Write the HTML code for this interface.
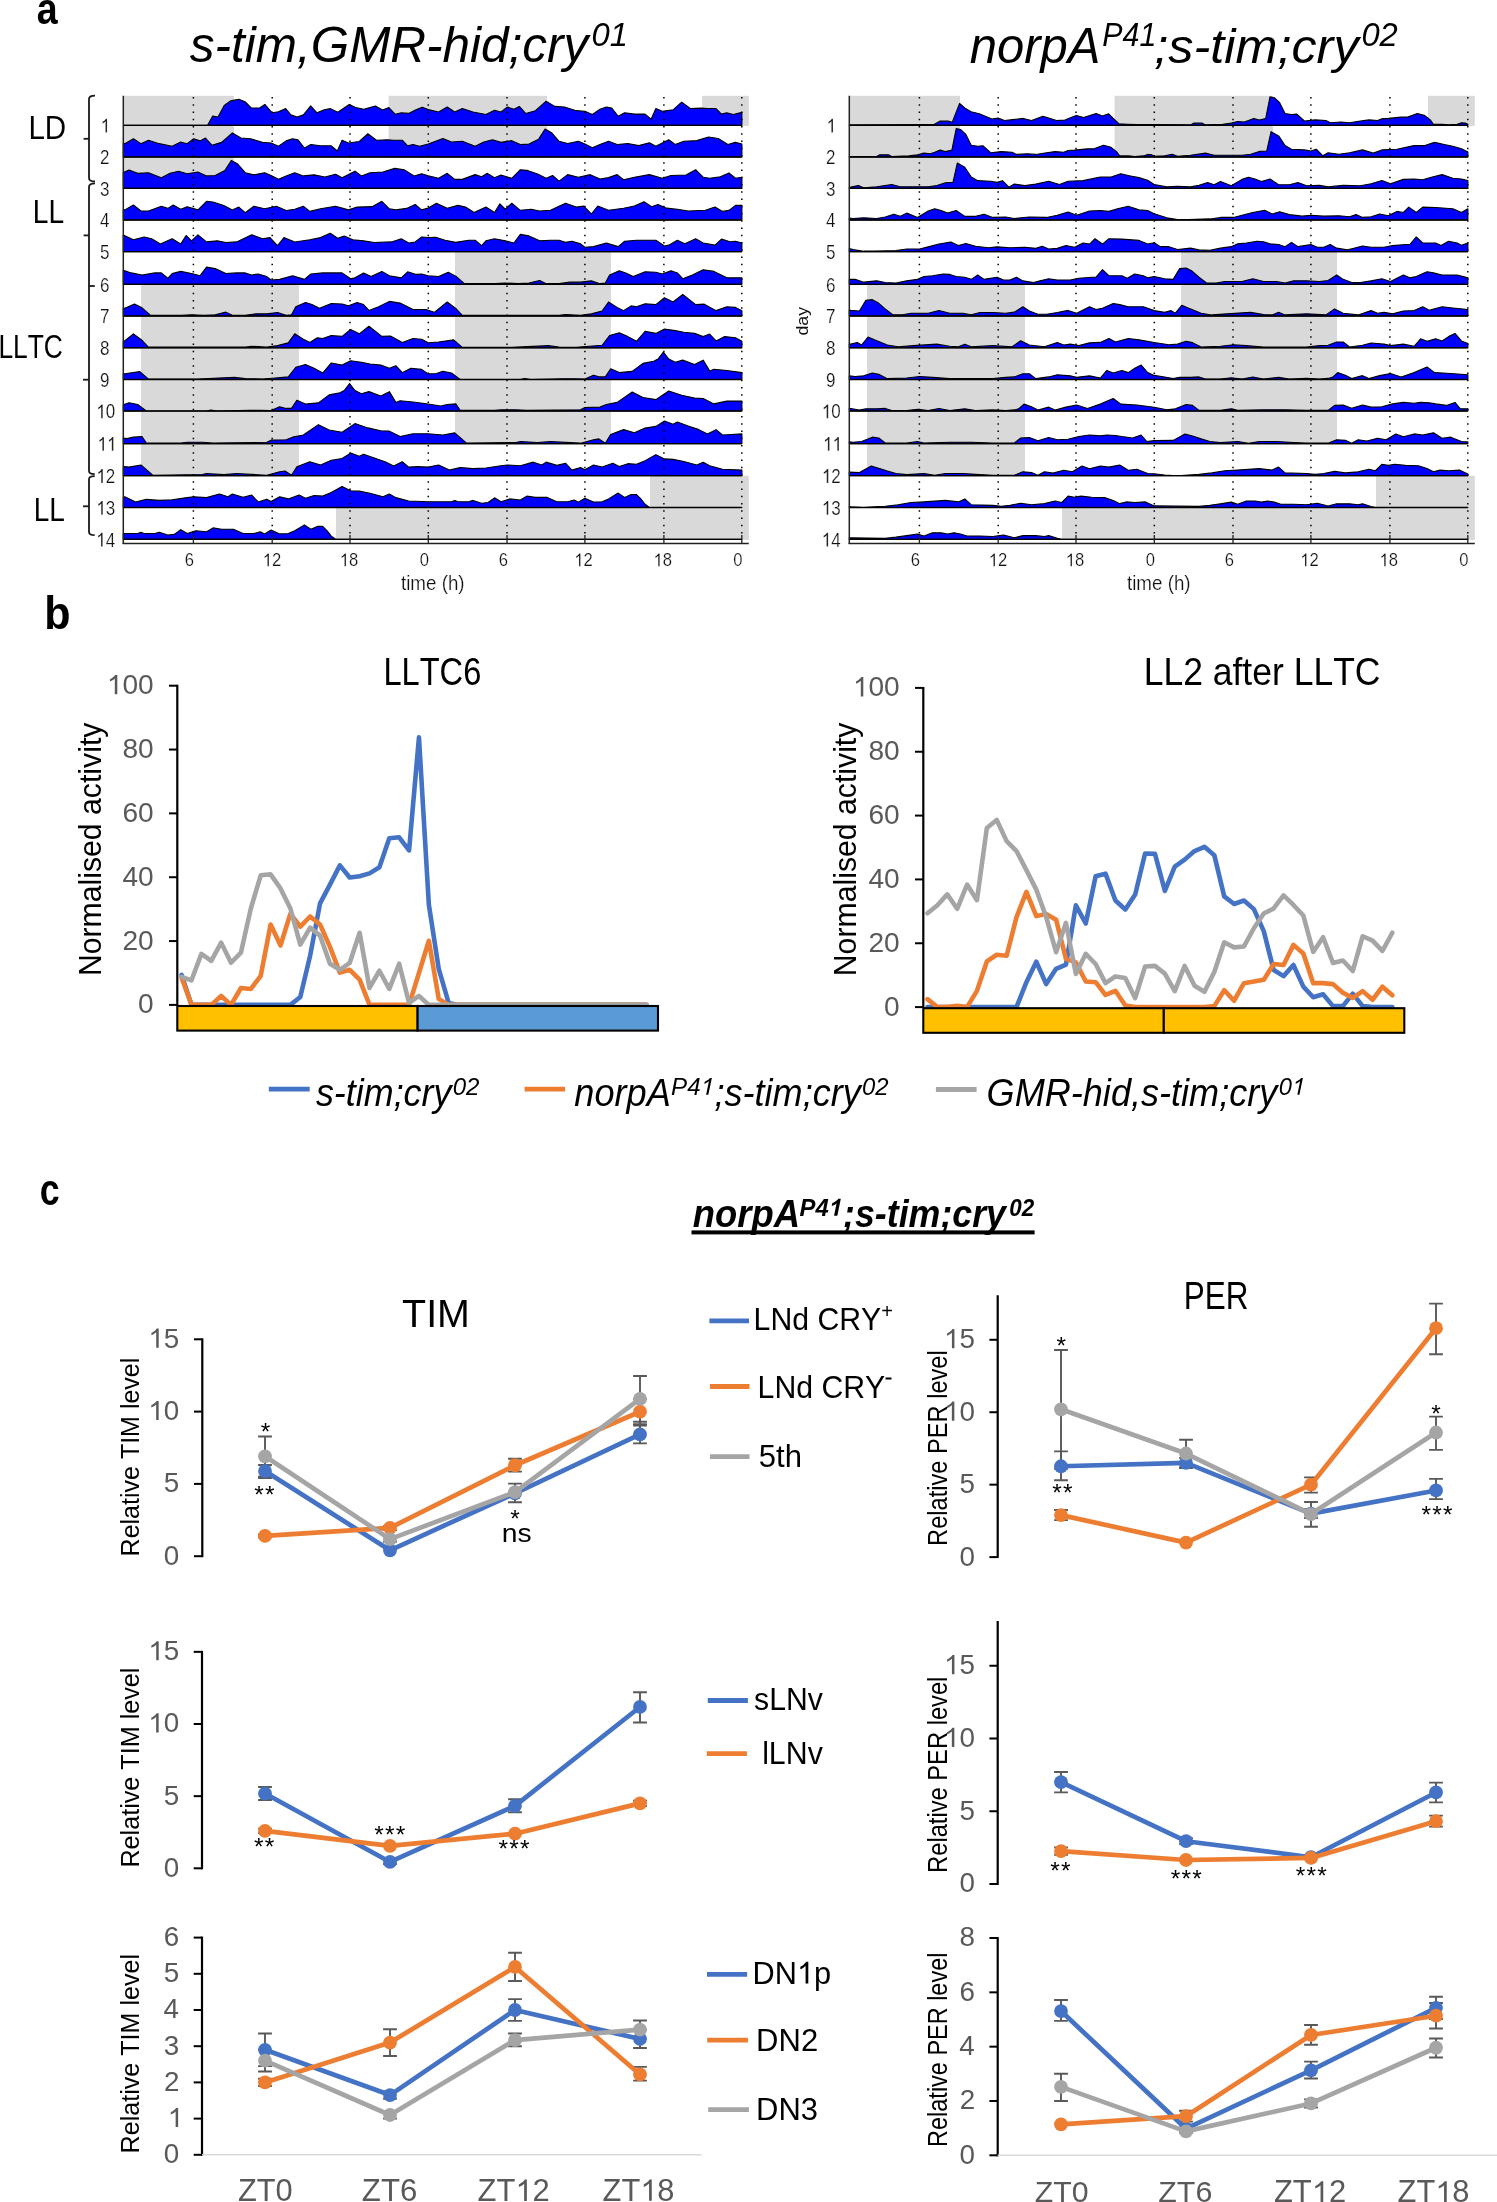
<!DOCTYPE html>
<html><head><meta charset="utf-8"><title>figure</title>
<style>html,body{margin:0;padding:0;background:#fff;}svg{display:block;font-family:"Liberation Sans",sans-serif;font-kerning:none;will-change:transform;}</style>
</head><body>
<svg width="1497" height="2202" viewBox="0 0 1497 2202" font-family="Liberation Sans, sans-serif">
<rect width="1497" height="2202" fill="#fff"/>
<rect x="123.3" y="95.8" width="110.7" height="30.1" fill="#d9d9d9" />
<rect x="388.6" y="95.8" width="158.4" height="30.1" fill="#d9d9d9" />
<rect x="702" y="95.8" width="46.8" height="30.1" fill="#d9d9d9" />
<rect x="123.3" y="125.3" width="110.7" height="32.3" fill="#d9d9d9" />
<rect x="388.6" y="125.3" width="158.4" height="32.3" fill="#d9d9d9" />
<rect x="123.3" y="157" width="110.7" height="32" fill="#d9d9d9" />
<rect x="455" y="251.6" width="156" height="33.3" fill="#d9d9d9" />
<rect x="141" y="284.3" width="158" height="32.3" fill="#d9d9d9" />
<rect x="455" y="284.3" width="156" height="32.3" fill="#d9d9d9" />
<rect x="141" y="316" width="158" height="32.4" fill="#d9d9d9" />
<rect x="455" y="316" width="156" height="32.4" fill="#d9d9d9" />
<rect x="141" y="347.8" width="158" height="32.3" fill="#d9d9d9" />
<rect x="455" y="347.8" width="156" height="32.3" fill="#d9d9d9" />
<rect x="141" y="379.5" width="158" height="32.1" fill="#d9d9d9" />
<rect x="455" y="379.5" width="156" height="32.1" fill="#d9d9d9" />
<rect x="141" y="411" width="158" height="33.2" fill="#d9d9d9" />
<rect x="455" y="411" width="156" height="33.2" fill="#d9d9d9" />
<rect x="141" y="443.6" width="158" height="32.7" fill="#d9d9d9" />
<rect x="650" y="475.7" width="98.8" height="32.4" fill="#d9d9d9" />
<rect x="336" y="507.5" width="412.8" height="32.4" fill="#d9d9d9" />
<path d="M123.3,125.3 L123.3,125.3 L124.17,125.3 L207.54,125.3 L212.75,115.92 L217.96,116.96 L224.21,105.5 L230.46,100.91 L238.8,99.25 L245.05,101.75 L251.3,108 L259.64,108 L264.85,104.46 L272.15,112.79 L278.4,111.75 L285.69,108.63 L290.9,114.88 L297.16,116.96 L303.41,114.88 L310.7,105.92 L316.96,112.79 L324.25,109.67 L330.5,108.63 L337.8,112.17 L349.26,104.46 L355.51,107.58 L363.85,109.25 L375.31,105.92 L382.61,110.09 L388.86,107.58 L395.11,114.25 L401.37,112.79 L408.66,113.42 L415.96,109.67 L422.21,107.17 L428.2,109.6 L438.6,111.96 L447.21,107.02 L454.74,111.96 L462.27,108.52 L473.02,111.96 L485.93,114.54 L494.53,110.24 L500.98,111.96 L507.44,107.02 L513.89,109.17 L519.27,106.37 L525.72,113.47 L535.4,110.67 L546.15,101.21 L554.76,106.37 L564.44,107.02 L576.27,110.67 L584.87,111.32 L592.4,114.54 L599.93,109.17 L606.38,107.02 L611.76,108.09 L618.21,116.27 L624.67,112.82 L634.35,114.11 L645.1,114.11 L651.12,119.28 L655.86,108.52 L662.31,111.32 L673.06,109.81 L681.67,102.07 L690.27,108.52 L701.03,108.09 L707.48,108.52 L716.08,108.52 L721.46,114.11 L726.84,112.82 L733.29,114.54 L741.9,112.39 L741.9,112.39 L741.9,125.3 Z" fill="#0000ff" stroke="#000" stroke-width="1.1" stroke-linejoin="round"/>
<line x1="123.3" y1="125.3" x2="741.9" y2="125.3" stroke="#000" stroke-width="1.3" />
<path d="M123.3,157 L123.3,143.36 L124.8,143.66 L133.41,138.72 L140.94,143.66 L148.47,140.22 L159.22,143.66 L172.13,146.24 L180.73,141.94 L187.18,143.66 L193.64,138.72 L200.09,140.87 L205.47,138.07 L211.92,145.17 L221.6,142.37 L232.35,132.91 L240.96,138.07 L250.64,138.72 L262.47,142.37 L271.07,143.02 L278.6,146.24 L286.13,140.87 L292.58,138.72 L297.96,139.79 L304.41,147.97 L310.87,144.52 L320.55,145.81 L331.3,145.81 L337.32,150.98 L342.06,140.22 L348.51,143.02 L359.26,141.51 L367.87,133.77 L376.47,140.22 L387.23,139.79 L393.68,140.22 L402.28,140.22 L407.66,145.81 L413.04,144.52 L419.49,146.24 L428.2,144.09 L442.91,138.5 L451.51,141.94 L462.27,141.3 L475.17,146.24 L483.78,141.94 L492.38,139.79 L500.98,142.37 L511.74,140.65 L520.34,144.52 L528.95,144.09 L538.63,139.15 L545.08,129.04 L551.53,132.69 L559.06,141.3 L567.66,143.45 L578.42,141.3 L584.87,144.09 L592.4,147.75 L599.93,144.52 L608.53,141.3 L617.14,144.52 L627.89,143.45 L638.65,145.6 L649.4,142.8 L655.86,146.24 L668.76,139.79 L675.21,144.52 L683.82,141.3 L696.72,140.65 L708.55,137 L718.23,138.5 L727.91,144.52 L735.44,142.37 L741.9,144.09 L741.9,144.09 L741.9,157 Z" fill="#0000ff" stroke="#000" stroke-width="1.1" stroke-linejoin="round"/>
<line x1="123.3" y1="157" x2="741.9" y2="157" stroke="#000" stroke-width="1.3" />
<path d="M123.3,188.4 L123.3,172.42 L129.11,169.9 L137.71,173.34 L148.47,172.7 L161.37,177.64 L169.98,173.34 L178.58,171.19 L187.18,173.77 L197.94,172.05 L206.54,175.92 L215.15,175.49 L224.83,170.55 L231.28,160.44 L237.73,164.09 L245.26,172.7 L253.86,174.85 L264.62,172.7 L271.07,175.49 L278.6,179.15 L286.13,175.92 L294.73,172.7 L303.34,175.92 L314.09,174.85 L324.85,177 L335.6,174.2 L342.06,177.64 L354.96,171.19 L361.41,175.92 L370.02,172.7 L382.92,172.05 L394.75,168.4 L404.43,169.9 L414.11,175.92 L421.64,173.77 L428.2,175.82 L438.6,178.29 L447.21,173.34 L454.74,179.37 L462.27,179.37 L475.17,174.63 L481.62,176.78 L487,173.34 L494.53,177.64 L500.98,175.06 L511.74,178.29 L520.34,169.69 L526.8,170.33 L537.55,173.99 L546.15,178.29 L552.61,175.49 L559.06,181.09 L567.66,174.63 L578.42,177.21 L590.25,174.63 L599.93,178.94 L608.53,177.64 L617.14,174.63 L623.59,179.8 L634.35,177.21 L649.4,174.63 L662.31,178.29 L670.91,175.49 L685.97,175.06 L695.65,169.69 L703.18,177.21 L709.63,178.29 L720.39,176.78 L728.99,172.91 L735.44,178.29 L741.9,177.21 L741.9,177.21 L741.9,188.4 Z" fill="#0000ff" stroke="#000" stroke-width="1.1" stroke-linejoin="round"/>
<line x1="123.3" y1="188.4" x2="741.9" y2="188.4" stroke="#000" stroke-width="1.3" />
<path d="M123.3,220 L123.3,209.51 L124.8,209.89 L133.41,204.94 L140.94,210.97 L148.47,210.97 L161.37,206.23 L167.82,208.38 L173.2,204.94 L180.73,209.24 L187.18,206.66 L197.94,209.89 L206.54,201.29 L213,201.93 L223.75,205.59 L232.35,209.89 L238.81,207.09 L245.26,212.69 L253.86,206.23 L264.62,208.81 L276.45,206.23 L286.13,210.54 L294.73,209.24 L303.34,206.23 L309.79,211.4 L320.55,208.81 L335.6,206.23 L348.51,209.89 L357.11,207.09 L372.17,206.66 L381.85,201.29 L389.38,208.81 L395.83,209.89 L406.59,208.38 L415.19,204.51 L421.64,209.89 L428.2,207.95 L436.45,203.22 L447.21,208.17 L457.96,205.37 L465.49,207.09 L474.1,212.47 L485.93,207.09 L494.53,212.47 L499.91,203.87 L505.29,209.24 L511.74,203.22 L520.34,210.32 L531.1,209.24 L539.7,210.97 L550.46,210.32 L565.51,203.22 L576.27,207.09 L583.8,206.02 L591.33,213.98 L597.78,206.02 L608.53,210.32 L623.59,208.17 L634.35,206.02 L644.02,201.72 L651.55,206.66 L658.01,204.51 L666.61,208.17 L677.37,209.24 L688.12,210.97 L705.33,210.32 L715.01,207.09 L722.54,211.4 L728.99,210.32 L735.44,205.37 L741.9,205.37 L741.9,205.37 L741.9,220 Z" fill="#0000ff" stroke="#000" stroke-width="1.1" stroke-linejoin="round"/>
<line x1="123.3" y1="220" x2="741.9" y2="220" stroke="#000" stroke-width="1.3" />
<path d="M123.3,251.6 L123.3,235.12 L133.41,239.77 L144.16,236.97 L151.69,238.69 L160.3,244.07 L172.13,238.69 L180.73,244.07 L186.11,235.47 L191.49,240.84 L197.94,234.82 L206.54,241.92 L217.3,240.84 L225.9,242.57 L236.66,241.92 L251.71,234.82 L262.47,238.69 L270,237.62 L277.53,245.58 L283.98,237.62 L294.73,241.92 L309.79,239.77 L320.55,237.62 L330.22,233.32 L337.75,238.26 L344.21,236.11 L352.81,239.77 L363.57,240.84 L374.32,242.57 L391.53,241.92 L401.21,238.69 L408.74,243 L415.19,241.92 L421.64,236.97 L428.2,237.51 L436.45,237.4 L445.06,240.2 L455.81,242.35 L468.72,240.2 L475.17,240.2 L481.62,245.58 L485.93,240.84 L494.53,238.69 L505.29,240.84 L513.89,243 L520.34,234.39 L528.95,235.9 L539.7,240.84 L550.46,240.2 L559.06,240.2 L565.51,242.35 L571.97,241.28 L580.57,243.86 L584.87,247.3 L593.48,246.65 L606.38,243 L618.21,246.65 L624.67,241.28 L636.5,240.2 L655.86,240.2 L664.46,246.01 L668.76,245.15 L677.37,240.2 L684.89,243.86 L695.65,238.69 L703.18,243 L715.01,245.15 L721.46,239.12 L730.06,241.71 L735.44,241.28 L741.9,243 L741.9,243 L741.9,251.6 Z" fill="#0000ff" stroke="#000" stroke-width="1.1" stroke-linejoin="round"/>
<line x1="123.3" y1="251.6" x2="741.9" y2="251.6" stroke="#000" stroke-width="1.3" />
<path d="M123.3,284.3 L123.3,270.31 L131.26,272.9 L142.01,275.05 L154.92,272.9 L161.37,272.9 L167.82,278.28 L172.13,273.54 L180.73,271.39 L191.49,273.54 L200.09,275.7 L206.54,267.09 L215.15,268.6 L225.9,273.54 L236.66,272.9 L245.26,272.9 L251.71,275.05 L258.17,273.98 L266.77,276.56 L271.07,280 L279.68,279.35 L292.58,275.7 L304.41,279.35 L310.87,273.98 L322.7,272.9 L342.06,272.9 L350.66,278.71 L354.96,277.85 L363.57,272.9 L371.09,276.56 L381.85,271.39 L389.38,275.7 L401.21,277.85 L407.66,271.82 L416.26,274.41 L421.64,273.98 L428.2,275.7 L438.6,276.56 L448.28,272.25 L455.81,276.13 L464.42,283.65 L494.53,283.65 L505.29,283.01 L518.19,283.65 L528.95,283.01 L539.7,280.43 L546.15,283.65 L559.06,283.65 L569.82,282.15 L580.57,282.15 L591.33,280.86 L599.93,283.65 L605.31,283.01 L609.61,275.05 L619.29,270.75 L625.74,272.9 L633.27,276.56 L645.1,271.82 L655.86,272.25 L662.31,273.98 L670.91,270.75 L677.37,272.9 L682.74,278.71 L692.42,275.05 L703.18,269.67 L713.93,271.39 L726.84,277.85 L739.74,277.85 L741.9,277.85 L741.9,277.85 L741.9,284.3 Z" fill="#0000ff" stroke="#000" stroke-width="1.1" stroke-linejoin="round"/>
<line x1="123.3" y1="284.3" x2="741.9" y2="284.3" stroke="#000" stroke-width="1.3" />
<path d="M123.3,316 L123.3,308.11 L124.8,308.26 L134.48,303.95 L142.01,307.83 L150.62,315.35 L180.73,315.35 L191.49,314.71 L204.39,315.35 L215.15,314.71 L225.9,312.13 L232.35,315.35 L245.26,315.35 L256.02,313.85 L266.77,313.85 L277.53,312.56 L286.13,315.35 L291.51,314.71 L295.81,306.75 L305.49,302.45 L311.94,304.6 L319.47,308.26 L331.3,303.52 L342.06,303.95 L348.51,305.68 L357.11,302.45 L363.57,304.6 L368.94,310.41 L378.62,306.75 L389.38,301.37 L400.13,303.09 L413.04,309.55 L425.94,309.55 L428.2,310.3 L434.3,312.34 L447.21,302.02 L455.81,308.47 L462.27,315.35 L559.06,315.35 L565.51,314.49 L580.57,315.35 L591.33,313.85 L602.08,311.05 L608.53,302.02 L617.14,307.4 L623.59,310.62 L631.12,305.89 L636.5,306.75 L645.1,303.74 L655.86,304.6 L664.46,297.72 L673.06,302.02 L682.74,294.49 L695.65,304.6 L704.25,304.17 L716.08,310.62 L726.84,306.75 L735.44,307.4 L741.9,310.62 L741.9,310.62 L741.9,316 Z" fill="#0000ff" stroke="#000" stroke-width="1.1" stroke-linejoin="round"/>
<line x1="123.3" y1="316" x2="741.9" y2="316" stroke="#000" stroke-width="1.3" />
<path d="M123.3,347.8 L123.3,341.9 L133.41,333.82 L142.01,340.27 L148.47,347.15 L245.26,347.15 L251.71,346.29 L266.77,347.15 L277.53,345.65 L288.28,342.85 L294.73,333.82 L303.34,339.2 L309.79,342.42 L317.32,337.69 L322.7,338.55 L331.3,335.54 L342.06,336.4 L350.66,329.52 L359.26,333.82 L368.94,326.29 L381.85,336.4 L390.45,335.97 L402.28,342.42 L413.04,338.55 L421.64,339.2 L428.2,342.75 L438.6,341.99 L453.66,339.84 L462.27,347.37 L503.13,347.37 L511.74,347.37 L548.31,345.65 L559.06,346.94 L576.27,347.37 L589.17,346.29 L602.08,345.22 L609.61,335.54 L619.29,332.74 L627.89,336.61 L636.5,341.35 L645.1,331.24 L655.86,333.39 L664.46,329.09 L675.21,330.59 L683.82,332.31 L694.57,333.39 L703.18,336.61 L709.63,334.03 L716.08,340.92 L724.69,336.61 L735.44,337.69 L741.9,341.35 L741.9,341.35 L741.9,347.8 Z" fill="#0000ff" stroke="#000" stroke-width="1.1" stroke-linejoin="round"/>
<line x1="123.3" y1="347.8" x2="741.9" y2="347.8" stroke="#000" stroke-width="1.3" />
<path d="M123.3,379.5 L123.3,373.88 L124.8,373.69 L139.86,371.54 L148.47,379.07 L189.33,379.07 L197.94,379.07 L234.51,377.35 L245.26,378.64 L262.47,379.07 L275.37,377.99 L288.28,376.92 L295.81,367.24 L305.49,364.44 L314.09,368.31 L322.7,373.05 L331.3,362.94 L342.06,365.09 L350.66,360.79 L361.41,362.29 L370.02,364.01 L380.77,365.09 L389.38,368.31 L395.83,365.73 L402.28,372.62 L410.89,368.31 L421.64,369.39 L428.2,373.91 L436.45,373.48 L442.91,371.33 L451.51,373.05 L460.11,379.5 L520.34,379.5 L524.64,378.42 L531.1,379.5 L563.36,378.85 L574.12,378.85 L584.87,379.07 L593.48,375.2 L599.93,376.92 L605.31,376.92 L610.68,368.74 L619.29,372.62 L632.19,371.33 L642.95,363.37 L653.7,361.22 L658.01,359.07 L663.38,351.97 L668.76,359.07 L675.21,362.29 L682.74,360.14 L694.57,364.44 L703.18,360.14 L709.63,370.9 L713.93,369.18 L726.84,370.47 L741.9,372.62 L741.9,372.62 L741.9,379.5 Z" fill="#0000ff" stroke="#000" stroke-width="1.1" stroke-linejoin="round"/>
<line x1="123.3" y1="379.5" x2="741.9" y2="379.5" stroke="#000" stroke-width="1.3" />
<path d="M123.3,411 L123.3,404.76 L129.11,402.83 L137.71,404.55 L146.31,411 L206.54,411 L210.84,409.92 L217.3,411 L249.56,410.35 L260.32,410.35 L271.07,410.57 L279.68,406.7 L286.13,408.42 L291.51,408.42 L296.88,400.24 L305.49,404.12 L318.39,402.83 L329.15,394.87 L339.9,392.72 L344.21,390.57 L349.58,383.47 L354.96,390.57 L361.41,393.79 L368.94,391.64 L380.77,395.94 L389.38,391.64 L395.83,402.4 L400.13,400.68 L413.04,401.97 L428.2,404.01 L440.76,406.05 L447.21,404.55 L455.81,403.9 L460.11,410.35 L494.53,410.35 L500.98,409.71 L516.04,409.71 L526.8,410.35 L580.57,409.71 L584.87,407.56 L599.93,407.13 L606.38,404.55 L617.14,402.4 L632.19,392.07 L642.95,397.45 L655.86,399.6 L668.76,391 L681.67,395.3 L694.57,398.09 L703.18,398.52 L713.93,403.9 L726.84,401.11 L741.9,401.11 L741.9,401.11 L741.9,411 Z" fill="#0000ff" stroke="#000" stroke-width="1.1" stroke-linejoin="round"/>
<line x1="123.3" y1="411" x2="741.9" y2="411" stroke="#000" stroke-width="1.3" />
<path d="M123.3,443.6 L123.3,437.92 L126.96,438.65 L133.41,437.15 L142.01,436.5 L146.31,442.95 L180.73,442.95 L187.18,442.31 L202.24,442.31 L213,442.95 L266.77,442.31 L271.07,440.16 L286.13,439.73 L292.58,437.15 L303.34,435 L318.39,424.67 L329.15,430.05 L342.06,432.2 L354.96,423.6 L367.87,427.9 L380.77,430.69 L389.38,431.12 L400.13,436.5 L413.04,433.71 L428.2,433.81 L442.91,435 L454.74,432.84 L466.57,443.17 L516.04,442.52 L520.34,441.45 L537.55,442.52 L550.46,441.45 L580.57,443.17 L593.48,439.73 L598.85,438.87 L605.31,443.17 L610.68,434.57 L623.59,429.62 L634.35,432.84 L645.1,428.11 L655.86,426.39 L664.46,421.01 L673.06,424.24 L677.37,422.09 L688.12,425.96 L698.88,429.62 L707.48,433.92 L716.08,429.62 L722.54,435 L731.14,434.57 L741.9,433.92 L741.9,433.92 L741.9,443.6 Z" fill="#0000ff" stroke="#000" stroke-width="1.1" stroke-linejoin="round"/>
<line x1="123.3" y1="443.6" x2="741.9" y2="443.6" stroke="#000" stroke-width="1.3" />
<path d="M123.3,475.7 L123.3,466.61 L129.11,467.1 L140.94,464.94 L152.77,475.27 L202.24,474.62 L206.54,473.55 L223.75,474.62 L236.66,473.55 L266.77,475.27 L279.68,471.83 L285.05,470.97 L291.51,475.27 L296.88,466.67 L309.79,461.72 L320.55,464.94 L331.3,460.21 L342.06,458.49 L350.66,453.11 L359.26,456.34 L363.57,454.19 L374.32,458.06 L385.08,461.72 L393.68,466.02 L402.28,461.72 L408.74,467.1 L417.34,466.67 L428.2,466.99 L438.6,464.94 L449.36,470.11 L460.11,467.53 L473.02,468.6 L485.93,467.96 L500.98,465.81 L507.44,464.94 L520.34,465.81 L533.25,462.15 L541.85,464.94 L546.15,462.15 L556.91,465.38 L565.51,463.22 L571.97,470.11 L580.57,467.53 L584.87,469.68 L593.48,464.94 L602.08,467.1 L612.84,463.22 L619.29,466.45 L627.89,463.65 L636.5,464.3 L645.1,460.64 L655.86,454.62 L664.46,458.92 L673.06,459.35 L683.82,461.5 L696.72,464.94 L703.18,462.15 L709.63,465.81 L722.54,469.25 L741.9,470.11 L741.9,470.11 L741.9,475.7 Z" fill="#0000ff" stroke="#000" stroke-width="1.1" stroke-linejoin="round"/>
<line x1="123.3" y1="475.7" x2="741.9" y2="475.7" stroke="#000" stroke-width="1.3" />
<path d="M123.3,507.5 L123.3,497.27 L124.8,496.74 L135.56,501.91 L146.31,499.33 L159.22,500.4 L172.13,499.76 L187.18,497.61 L193.64,496.74 L206.54,497.61 L219.45,493.95 L228.05,496.74 L232.35,493.95 L243.11,497.18 L251.71,495.02 L258.17,501.91 L266.77,499.33 L271.07,501.48 L279.68,496.74 L288.28,498.9 L299.04,495.02 L305.49,498.25 L314.09,495.45 L322.7,496.1 L331.3,492.44 L342.06,486.42 L350.66,490.72 L359.26,491.15 L370.02,493.3 L382.92,496.74 L389.38,493.95 L395.83,497.61 L408.74,501.05 L428.2,501.8 L451.51,501.69 L454.74,500.4 L457.96,501.69 L468.72,501.69 L473.02,500.4 L481.62,503.2 L488.08,502.55 L494.53,497.82 L500.98,501.69 L509.59,498.9 L520.34,499.97 L526.8,496.1 L535.4,497.39 L547.23,497.39 L556.91,501.69 L567.66,501.69 L574.12,499.97 L578.42,502.12 L584.87,498.25 L593.48,502.12 L602.08,501.69 L608.53,498.9 L618.21,493.09 L624.67,497.39 L631.12,494.59 L636.5,494.59 L640.8,498.9 L645.1,504.27 L649.4,507.5 L649.4,507.5 L741.9,507.5 L741.9,507.5 Z" fill="#0000ff" stroke="#000" stroke-width="1.1" stroke-linejoin="round"/>
<line x1="123.3" y1="507.5" x2="741.9" y2="507.5" stroke="#000" stroke-width="1.3" />
<path d="M123.3,539.3 L123.3,533.49 L137.71,533.49 L140.94,532.2 L144.16,533.49 L154.92,533.49 L159.22,532.2 L167.82,535 L174.28,534.35 L180.73,529.62 L187.18,533.49 L195.79,530.7 L206.54,531.77 L213,527.9 L221.6,529.19 L233.43,529.19 L243.11,533.49 L253.86,533.49 L260.32,531.77 L264.62,533.92 L271.07,530.05 L279.68,533.92 L288.28,533.49 L294.73,530.7 L304.41,524.89 L310.87,529.19 L317.32,526.39 L322.7,526.39 L327,530.7 L331.3,536.07 L335.6,539.3 L335.6,539.3 L428.2,539.3 L741.9,539.3 L741.9,539.3 Z" fill="#0000ff" stroke="#000" stroke-width="1.1" stroke-linejoin="round"/>
<line x1="123.3" y1="539.3" x2="741.9" y2="539.3" stroke="#000" stroke-width="1.3" />
<line x1="193.4" y1="97" x2="193.4" y2="539.3" stroke="#000" stroke-width="1.5" stroke-dasharray="1.5 5.75"/>
<line x1="272.2" y1="97" x2="272.2" y2="539.3" stroke="#000" stroke-width="1.5" stroke-dasharray="1.5 5.75"/>
<line x1="350" y1="97" x2="350" y2="539.3" stroke="#000" stroke-width="1.5" stroke-dasharray="1.5 5.75"/>
<line x1="428.3" y1="97" x2="428.3" y2="539.3" stroke="#000" stroke-width="1.5" stroke-dasharray="1.5 5.75"/>
<line x1="507" y1="97" x2="507" y2="539.3" stroke="#000" stroke-width="1.5" stroke-dasharray="1.5 5.75"/>
<line x1="584.9" y1="97" x2="584.9" y2="539.3" stroke="#000" stroke-width="1.5" stroke-dasharray="1.5 5.75"/>
<line x1="663.9" y1="97" x2="663.9" y2="539.3" stroke="#000" stroke-width="1.5" stroke-dasharray="1.5 5.75"/>
<line x1="741.8" y1="97" x2="741.8" y2="539.3" stroke="#000" stroke-width="1.5" stroke-dasharray="1.5 5.75"/>
<line x1="123.3" y1="95.8" x2="123.3" y2="544.1" stroke="#222" stroke-width="1.5" />
<line x1="122.6" y1="543.4" x2="748.8" y2="543.4" stroke="#222" stroke-width="1.5" />
<line x1="193.4" y1="543.4" x2="193.4" y2="534.9" stroke="#222" stroke-width="1.3" />
<line x1="272.2" y1="543.4" x2="272.2" y2="534.9" stroke="#222" stroke-width="1.3" />
<line x1="350" y1="543.4" x2="350" y2="534.9" stroke="#222" stroke-width="1.3" />
<line x1="428.3" y1="543.4" x2="428.3" y2="534.9" stroke="#222" stroke-width="1.3" />
<line x1="507" y1="543.4" x2="507" y2="534.9" stroke="#222" stroke-width="1.3" />
<line x1="584.9" y1="543.4" x2="584.9" y2="534.9" stroke="#222" stroke-width="1.3" />
<line x1="663.9" y1="543.4" x2="663.9" y2="534.9" stroke="#222" stroke-width="1.3" />
<line x1="741.8" y1="543.4" x2="741.8" y2="534.9" stroke="#222" stroke-width="1.3" />
<text transform="translate(184.82,566.2) scale(0.9000,1)" font-size="18.5" font-style="normal" font-weight="normal" fill="#111" stroke="#fff" stroke-width="0.22">6</text>
<g transform="translate(262.71,566.2) scale(0.9000,1)" fill="#111" stroke="#fff" stroke-width="0.22"><text font-size="18.5" font-style="normal" font-weight="normal"> 2</text>
<path d="M6.9,0.0 L5.3,0.0 L5.3,-10.3 L4.8,-9.9 L4.2,-9.4 L3.4,-9.0 L2.7,-8.6 L2.1,-8.3 L2.1,-9.9 L3.0,-10.3 L3.9,-10.9 L4.7,-11.7 L5.3,-12.3 L5.6,-12.7 L6.9,-12.7 Z"/>
</g>
<g transform="translate(339.75,566.2) scale(0.9000,1)" fill="#111" stroke="#fff" stroke-width="0.22"><text font-size="18.5" font-style="normal" font-weight="normal"> 8</text>
<path d="M6.9,0.0 L5.3,0.0 L5.3,-10.3 L4.8,-9.9 L4.2,-9.4 L3.4,-9.0 L2.7,-8.6 L2.1,-8.3 L2.1,-9.9 L3.0,-10.3 L3.9,-10.9 L4.7,-11.7 L5.3,-12.3 L5.6,-12.7 L6.9,-12.7 Z"/>
</g>
<text transform="translate(419.68,566.2) scale(0.9000,1)" font-size="18.5" font-style="normal" font-weight="normal" fill="#111" stroke="#fff" stroke-width="0.22">0</text>
<text transform="translate(498.72,566.2) scale(0.9000,1)" font-size="18.5" font-style="normal" font-weight="normal" fill="#111" stroke="#fff" stroke-width="0.22">6</text>
<g transform="translate(574.21,566.2) scale(0.9000,1)" fill="#111" stroke="#fff" stroke-width="0.22"><text font-size="18.5" font-style="normal" font-weight="normal"> 2</text>
<path d="M6.9,0.0 L5.3,0.0 L5.3,-10.3 L4.8,-9.9 L4.2,-9.4 L3.4,-9.0 L2.7,-8.6 L2.1,-8.3 L2.1,-9.9 L3.0,-10.3 L3.9,-10.9 L4.7,-11.7 L5.3,-12.3 L5.6,-12.7 L6.9,-12.7 Z"/>
</g>
<g transform="translate(653.45,566.2) scale(0.9000,1)" fill="#111" stroke="#fff" stroke-width="0.22"><text font-size="18.5" font-style="normal" font-weight="normal"> 8</text>
<path d="M6.9,0.0 L5.3,0.0 L5.3,-10.3 L4.8,-9.9 L4.2,-9.4 L3.4,-9.0 L2.7,-8.6 L2.1,-8.3 L2.1,-9.9 L3.0,-10.3 L3.9,-10.9 L4.7,-11.7 L5.3,-12.3 L5.6,-12.7 L6.9,-12.7 Z"/>
</g>
<text transform="translate(733.28,566.2) scale(0.9000,1)" font-size="18.5" font-style="normal" font-weight="normal" fill="#111" stroke="#fff" stroke-width="0.22">0</text>
<text transform="translate(400.92,590.2) scale(0.9114,1)" font-size="20.62" font-style="normal" font-weight="normal" fill="#111" stroke="#fff" stroke-width="0.22">time (h)</text>
<g transform="translate(100.68,132.5) scale(0.8500,1)" fill="#111" stroke="#fff" stroke-width="0.22"><text font-size="20" font-style="normal" font-weight="normal"> </text>
<path d="M7.5,0.0 L5.7,0.0 L5.7,-11.2 L5.2,-10.7 L4.5,-10.2 L3.7,-9.7 L2.9,-9.3 L2.2,-9.0 L2.2,-10.7 L3.2,-11.2 L4.2,-11.8 L5.1,-12.6 L5.7,-13.3 L6.1,-13.8 L7.5,-13.8 Z"/>
</g>
<text transform="translate(100.06,164.2) scale(0.8500,1)" font-size="20" font-style="normal" font-weight="normal" fill="#111" stroke="#fff" stroke-width="0.22">2</text>
<text transform="translate(100.12,195.6) scale(0.8500,1)" font-size="20" font-style="normal" font-weight="normal" fill="#111" stroke="#fff" stroke-width="0.22">3</text>
<text transform="translate(100.12,227.2) scale(0.8500,1)" font-size="20" font-style="normal" font-weight="normal" fill="#111" stroke="#fff" stroke-width="0.22">4</text>
<text transform="translate(100.08,258.8) scale(0.8500,1)" font-size="20" font-style="normal" font-weight="normal" fill="#111" stroke="#fff" stroke-width="0.22">5</text>
<text transform="translate(100.02,291.5) scale(0.8500,1)" font-size="20" font-style="normal" font-weight="normal" fill="#111" stroke="#fff" stroke-width="0.22">6</text>
<text transform="translate(100.06,323.2) scale(0.8500,1)" font-size="20" font-style="normal" font-weight="normal" fill="#111" stroke="#fff" stroke-width="0.22">7</text>
<text transform="translate(100.06,355) scale(0.8500,1)" font-size="20" font-style="normal" font-weight="normal" fill="#111" stroke="#fff" stroke-width="0.22">8</text>
<text transform="translate(100.08,386.7) scale(0.8500,1)" font-size="20" font-style="normal" font-weight="normal" fill="#111" stroke="#fff" stroke-width="0.22">9</text>
<g transform="translate(96.32,418.2) scale(0.8500,1)" fill="#111" stroke="#fff" stroke-width="0.22"><text font-size="20" font-style="normal" font-weight="normal"> 0</text>
<path d="M7.5,0.0 L5.7,0.0 L5.7,-11.2 L5.2,-10.7 L4.5,-10.2 L3.7,-9.7 L2.9,-9.3 L2.2,-9.0 L2.2,-10.7 L3.2,-11.2 L4.2,-11.8 L5.1,-12.6 L5.7,-13.3 L6.1,-13.8 L7.5,-13.8 Z"/>
</g>
<g transform="translate(97.55,450.8) scale(0.8500,1)" fill="#111" stroke="#fff" stroke-width="0.22"><text font-size="20" font-style="normal" font-weight="normal">  </text>
<path d="M7.5,0.0 L5.7,0.0 L5.7,-11.2 L5.2,-10.7 L4.5,-10.2 L3.7,-9.7 L2.9,-9.3 L2.2,-9.0 L2.2,-10.7 L3.2,-11.2 L4.2,-11.8 L5.1,-12.6 L5.7,-13.3 L6.1,-13.8 L7.5,-13.8 Z"/>
<path d="M18.6,0.0 L16.8,0.0 L16.8,-11.2 L16.3,-10.7 L15.6,-10.2 L14.8,-9.7 L14.1,-9.3 L13.4,-9.0 L13.4,-10.7 L14.3,-11.2 L15.3,-11.8 L16.2,-12.6 L16.8,-13.3 L17.2,-13.8 L18.6,-13.8 Z"/>
</g>
<g transform="translate(96.4,482.9) scale(0.8500,1)" fill="#111" stroke="#fff" stroke-width="0.22"><text font-size="20" font-style="normal" font-weight="normal"> 2</text>
<path d="M7.5,0.0 L5.7,0.0 L5.7,-11.2 L5.2,-10.7 L4.5,-10.2 L3.7,-9.7 L2.9,-9.3 L2.2,-9.0 L2.2,-10.7 L3.2,-11.2 L4.2,-11.8 L5.1,-12.6 L5.7,-13.3 L6.1,-13.8 L7.5,-13.8 Z"/>
</g>
<g transform="translate(96.36,514.7) scale(0.8500,1)" fill="#111" stroke="#fff" stroke-width="0.22"><text font-size="20" font-style="normal" font-weight="normal"> 3</text>
<path d="M7.5,0.0 L5.7,0.0 L5.7,-11.2 L5.2,-10.7 L4.5,-10.2 L3.7,-9.7 L2.9,-9.3 L2.2,-9.0 L2.2,-10.7 L3.2,-11.2 L4.2,-11.8 L5.1,-12.6 L5.7,-13.3 L6.1,-13.8 L7.5,-13.8 Z"/>
</g>
<g transform="translate(96.23,546.5) scale(0.8500,1)" fill="#111" stroke="#fff" stroke-width="0.22"><text font-size="20" font-style="normal" font-weight="normal"> 4</text>
<path d="M7.5,0.0 L5.7,0.0 L5.7,-11.2 L5.2,-10.7 L4.5,-10.2 L3.7,-9.7 L2.9,-9.3 L2.2,-9.0 L2.2,-10.7 L3.2,-11.2 L4.2,-11.8 L5.1,-12.6 L5.7,-13.3 L6.1,-13.8 L7.5,-13.8 Z"/>
</g>
<rect x="849.3" y="95.8" width="110.7" height="30.1" fill="#d9d9d9" />
<rect x="1114.6" y="95.8" width="158.4" height="30.1" fill="#d9d9d9" />
<rect x="1428" y="95.8" width="46.8" height="30.1" fill="#d9d9d9" />
<rect x="849.3" y="125.3" width="110.7" height="32.3" fill="#d9d9d9" />
<rect x="1114.6" y="125.3" width="158.4" height="32.3" fill="#d9d9d9" />
<rect x="849.3" y="157" width="110.7" height="32" fill="#d9d9d9" />
<rect x="1181" y="251.6" width="156" height="33.3" fill="#d9d9d9" />
<rect x="867" y="284.3" width="158" height="32.3" fill="#d9d9d9" />
<rect x="1181" y="284.3" width="156" height="32.3" fill="#d9d9d9" />
<rect x="867" y="316" width="158" height="32.4" fill="#d9d9d9" />
<rect x="1181" y="316" width="156" height="32.4" fill="#d9d9d9" />
<rect x="867" y="347.8" width="158" height="32.3" fill="#d9d9d9" />
<rect x="1181" y="347.8" width="156" height="32.3" fill="#d9d9d9" />
<rect x="867" y="379.5" width="158" height="32.1" fill="#d9d9d9" />
<rect x="1181" y="379.5" width="156" height="32.1" fill="#d9d9d9" />
<rect x="867" y="411" width="158" height="33.2" fill="#d9d9d9" />
<rect x="1181" y="411" width="156" height="33.2" fill="#d9d9d9" />
<rect x="867" y="443.6" width="158" height="32.7" fill="#d9d9d9" />
<rect x="1376" y="475.7" width="98.8" height="32.4" fill="#d9d9d9" />
<rect x="1062" y="507.5" width="412.8" height="32.4" fill="#d9d9d9" />
<path d="M849.3,125.3 L849.3,124.88 L933.54,124.67 L939.79,121.13 L948.13,121.13 L952.29,122.17 L959.59,103.42 L964.8,108 L971.05,111.75 L979.39,113.84 L991.89,119.05 L998.15,118.01 L1004.4,120.51 L1012.74,119.67 L1023.16,118.42 L1031.49,120.51 L1042.96,116.34 L1050.25,118.42 L1056.5,120.51 L1064.84,120.09 L1076.3,115.5 L1083.6,117.59 L1096.1,113.42 L1102.36,115.92 L1108.61,113.84 L1112.78,118.01 L1119.03,123.84 L1127.37,124.26 L1137.79,124.67 L1154.2,124.6 L1190.42,124.87 L1193.64,123.15 L1202.25,123.15 L1205.47,124.87 L1222.68,124.22 L1231.29,123.15 L1237.74,121.43 L1244.19,122.07 L1248.49,120.57 L1253.87,118.42 L1259.25,119.92 L1265.7,118.42 L1270,96.91 L1274.31,97.77 L1279.68,102.71 L1285.06,113.47 L1291.51,114.54 L1296.89,114.11 L1304.42,121 L1315.17,119.92 L1325.93,120.57 L1330.23,122.72 L1340.99,122.07 L1349.59,122.72 L1360.35,121 L1368.95,119.92 L1377.55,120.57 L1381.86,118.85 L1388.31,118.42 L1401.21,117.13 L1407.67,117.13 L1417.35,113.47 L1424.88,115.62 L1430.25,119.92 L1433.48,124.22 L1442.08,124.22 L1448.54,124.87 L1457.14,124.22 L1461.44,122.72 L1465.74,123.15 L1467.9,124.22 L1467.9,124.22 L1467.9,125.3 Z" fill="#0000ff" stroke="#000" stroke-width="1.1" stroke-linejoin="round"/>
<line x1="849.3" y1="125.3" x2="1467.9" y2="125.3" stroke="#000" stroke-width="1.3" />
<path d="M849.3,157 L849.3,156.57 L876.62,156.57 L879.84,154.85 L888.45,154.85 L891.67,156.57 L908.88,155.92 L917.49,154.85 L923.94,153.13 L930.39,153.77 L934.69,152.27 L940.07,150.12 L945.45,151.62 L951.9,150.12 L956.2,128.61 L960.51,129.47 L965.88,134.41 L971.26,145.17 L977.71,146.24 L983.09,145.81 L990.62,152.7 L1001.37,151.62 L1012.13,152.27 L1016.43,154.42 L1027.19,153.77 L1035.79,154.42 L1046.55,152.7 L1055.15,151.62 L1063.75,152.27 L1068.06,150.55 L1074.51,150.12 L1087.41,148.83 L1093.87,148.83 L1103.55,145.17 L1111.08,147.32 L1116.45,151.62 L1119.68,155.92 L1128.28,155.92 L1134.74,156.57 L1143.34,155.92 L1147.64,154.42 L1151.94,154.85 L1154.2,156.25 L1164.6,155.71 L1172.13,154.2 L1177.51,156.35 L1190.42,155.28 L1205.47,153.13 L1214.08,155.28 L1220.53,155.28 L1242.04,155.28 L1250.64,154.2 L1259.25,151.41 L1266.78,150.98 L1271.08,131.62 L1278.61,135.92 L1285.06,145.6 L1291.51,149.26 L1304.42,149.9 L1310.87,150.98 L1316.25,149.26 L1322.7,155.71 L1328.08,152.7 L1338.84,154.2 L1349.59,152.7 L1362.5,149.9 L1373.25,153.13 L1381.86,149.9 L1396.91,149.26 L1414.12,145.6 L1424.88,145.6 L1434.55,142.37 L1444.23,144.52 L1452.84,146.24 L1461.44,148.83 L1467.9,152.05 L1467.9,152.05 L1467.9,157 Z" fill="#0000ff" stroke="#000" stroke-width="1.1" stroke-linejoin="round"/>
<line x1="849.3" y1="157" x2="1467.9" y2="157" stroke="#000" stroke-width="1.3" />
<path d="M849.3,188.4 L849.3,187.26 L850.8,187.11 L858.33,185.6 L863.71,187.75 L876.62,186.68 L891.67,184.53 L900.28,186.68 L906.73,186.68 L928.24,186.68 L936.84,185.6 L945.45,182.81 L952.98,182.38 L957.28,163.02 L964.81,167.32 L971.26,177 L977.71,180.66 L990.62,181.3 L997.07,182.38 L1002.45,180.66 L1008.9,187.11 L1014.28,184.1 L1025.04,185.6 L1035.79,184.1 L1048.7,181.3 L1059.45,184.53 L1068.06,181.3 L1083.11,180.66 L1100.32,177 L1111.08,177 L1120.75,173.77 L1130.43,175.92 L1139.04,177.64 L1147.64,180.23 L1154.2,184.42 L1166.76,186.89 L1177.51,186.25 L1190.42,186.89 L1199.02,185.39 L1207.62,182.59 L1214.08,184.74 L1220.53,181.52 L1231.29,185.82 L1242.04,179.37 L1248.49,177.21 L1254.95,178.94 L1261.4,181.52 L1270,178.94 L1278.61,184.74 L1289.36,184.74 L1297.97,182.59 L1306.57,185.82 L1319.48,185.39 L1328.08,186.89 L1343.14,185.39 L1360.35,185.82 L1371.1,183.67 L1381.86,180.44 L1390.46,183.67 L1403.37,179.37 L1414.12,178.94 L1422.72,179.8 L1431.33,177.21 L1442.08,174.63 L1452.84,178.29 L1461.44,178.94 L1467.9,180.44 L1467.9,180.44 L1467.9,188.4 Z" fill="#0000ff" stroke="#000" stroke-width="1.1" stroke-linejoin="round"/>
<line x1="849.3" y1="188.4" x2="1467.9" y2="188.4" stroke="#000" stroke-width="1.3" />
<path d="M849.3,220 L849.3,217.98 L852.96,218.49 L863.71,217.85 L876.62,218.49 L885.22,216.99 L893.82,214.19 L900.28,216.34 L906.73,213.12 L917.49,217.42 L928.24,210.97 L934.69,208.81 L941.15,210.54 L947.6,213.12 L956.2,210.54 L964.81,216.34 L975.56,216.34 L984.17,214.19 L992.77,217.42 L1005.68,216.99 L1014.28,218.49 L1029.34,216.99 L1046.55,217.42 L1057.3,215.27 L1068.06,212.04 L1076.66,215.27 L1089.57,210.97 L1100.32,210.54 L1108.92,211.4 L1117.53,208.81 L1128.28,206.23 L1139.04,209.89 L1147.64,210.54 L1154.2,213.65 L1166.76,217.85 L1177.51,219.57 L1188.27,219.57 L1209.78,218.92 L1220.53,217.42 L1233.44,217.42 L1242.04,215.27 L1252.8,212.47 L1264.63,210.32 L1272.15,213.98 L1279.68,211.83 L1289.36,214.62 L1302.27,216.13 L1310.87,215.27 L1323.78,216.13 L1338.84,215.7 L1349.59,216.77 L1356.04,214.62 L1362.5,217.42 L1371.1,216.77 L1379.7,213.98 L1388.31,215.7 L1396.91,211.4 L1403.37,212.47 L1408.74,207.09 L1416.27,212.47 L1422.72,207.09 L1435.63,207.52 L1452.84,208.81 L1461.44,212.47 L1467.9,208.81 L1467.9,208.81 L1467.9,220 Z" fill="#0000ff" stroke="#000" stroke-width="1.1" stroke-linejoin="round"/>
<line x1="849.3" y1="220" x2="1467.9" y2="220" stroke="#000" stroke-width="1.3" />
<path d="M849.3,251.6 L849.3,248.57 L852.96,249.45 L863.71,251.17 L874.47,251.17 L895.98,250.52 L906.73,249.02 L919.64,249.02 L928.24,246.87 L939,244.07 L950.83,241.92 L958.35,245.58 L965.88,243.43 L975.56,246.22 L988.47,247.73 L997.07,246.87 L1009.98,247.73 L1025.04,247.3 L1035.79,248.37 L1042.24,246.22 L1048.7,249.02 L1057.3,248.37 L1065.9,245.58 L1074.51,247.3 L1083.11,243 L1089.57,244.07 L1094.94,238.69 L1102.47,244.07 L1108.92,238.69 L1121.83,239.12 L1139.04,240.41 L1147.64,244.07 L1154.2,242.78 L1160.3,246.65 L1168.91,246.65 L1177.51,249.45 L1190.42,248.16 L1199.02,249.88 L1209.78,250.31 L1220.53,248.16 L1231.29,246.65 L1237.74,243.86 L1246.34,243 L1257.1,241.28 L1263.55,241.71 L1270,243.86 L1278.61,244.5 L1285.06,246.65 L1291.51,242.35 L1297.97,246.65 L1310.87,244.5 L1317.33,247.3 L1323.78,247.3 L1330.23,244.5 L1336.68,248.16 L1347.44,249.88 L1353.89,248.16 L1362.5,246.01 L1371.1,247.3 L1384.01,247.3 L1392.61,245.58 L1405.52,244.5 L1409.82,244.5 L1416.27,236.97 L1422.72,243 L1435.63,243 L1441.01,245.58 L1448.54,241.28 L1457.14,243 L1461.44,245.15 L1467.9,243 L1467.9,243 L1467.9,251.6 Z" fill="#0000ff" stroke="#000" stroke-width="1.1" stroke-linejoin="round"/>
<line x1="849.3" y1="251.6" x2="1467.9" y2="251.6" stroke="#000" stroke-width="1.3" />
<path d="M849.3,284.3 L849.3,279.35 L855.11,279.35 L863.71,282.15 L876.62,280.86 L885.22,282.58 L895.98,283.01 L906.73,280.86 L917.49,279.35 L923.94,276.56 L932.54,275.7 L943.3,273.98 L949.75,274.41 L956.2,276.56 L964.81,277.2 L971.26,279.35 L977.71,275.05 L984.17,279.35 L997.07,277.2 L1003.53,280 L1009.98,280 L1016.43,277.2 L1022.88,280.86 L1033.64,282.58 L1040.09,280.86 L1048.7,278.71 L1057.3,280 L1070.21,280 L1078.81,278.28 L1091.72,277.2 L1096.02,277.2 L1102.47,269.67 L1108.92,275.7 L1121.83,275.7 L1127.21,278.28 L1134.74,273.98 L1143.34,275.7 L1147.64,277.85 L1154.2,276.45 L1164.6,278.71 L1173.21,279.35 L1179.66,268.6 L1186.11,267.95 L1191.49,270.75 L1199.02,277.2 L1206.55,283.01 L1216.23,283.01 L1224.83,281.5 L1242.04,281.5 L1252.8,278.71 L1263.55,281.5 L1276.46,281.5 L1285.06,283.01 L1293.66,280.86 L1306.57,280.86 L1319.48,281.5 L1328.08,280.43 L1336.68,275.05 L1343.14,279.35 L1351.74,282.58 L1360.35,282.58 L1371.1,280.86 L1381.86,278.71 L1390.46,281.5 L1403.37,275.05 L1409.82,277.85 L1416.27,276.56 L1427.03,271.82 L1433.48,272.9 L1442.08,275.05 L1457.14,275.05 L1467.9,277.85 L1467.9,277.85 L1467.9,284.3 Z" fill="#0000ff" stroke="#000" stroke-width="1.1" stroke-linejoin="round"/>
<line x1="849.3" y1="284.3" x2="1467.9" y2="284.3" stroke="#000" stroke-width="1.3" />
<path d="M849.3,316 L849.3,310.14 L850.8,310.41 L859.41,311.05 L865.86,300.3 L872.31,299.65 L877.69,302.45 L885.22,308.9 L892.75,314.71 L902.43,314.71 L911.03,313.2 L928.24,313.2 L939,310.41 L949.75,313.2 L962.66,313.2 L971.26,314.71 L979.86,312.56 L992.77,312.56 L1005.68,313.2 L1014.28,312.13 L1022.88,306.75 L1029.34,311.05 L1037.94,314.28 L1046.55,314.28 L1057.3,312.56 L1068.06,310.41 L1076.66,313.2 L1089.57,306.75 L1096.02,309.55 L1102.47,308.26 L1113.23,303.52 L1119.68,304.6 L1128.28,306.75 L1143.34,306.75 L1154.2,310.62 L1164.6,312.34 L1171.06,310.62 L1175.36,313.2 L1181.81,305.24 L1188.27,308.04 L1201.17,313.2 L1211.93,314.92 L1226.98,313.85 L1250.64,312.34 L1263.55,314.49 L1272.15,314.92 L1278.61,312.34 L1285.06,314.92 L1306.57,313.85 L1325.93,314.92 L1334.53,308.9 L1343.14,313.2 L1358.19,314.92 L1371.1,310.62 L1377.55,313.2 L1384.01,312.34 L1392.61,313.85 L1403.37,311.05 L1414.12,310.62 L1422.72,306.75 L1429.18,310.19 L1442.08,306.75 L1452.84,308.04 L1467.9,309.55 L1467.9,309.55 L1467.9,316 Z" fill="#0000ff" stroke="#000" stroke-width="1.1" stroke-linejoin="round"/>
<line x1="849.3" y1="316" x2="1467.9" y2="316" stroke="#000" stroke-width="1.3" />
<path d="M849.3,347.8 L849.3,344.03 L850.8,344.14 L857.26,342.42 L861.56,345 L868.01,337.04 L874.47,339.84 L887.37,345 L898.13,346.72 L913.18,345.65 L936.84,344.14 L949.75,346.29 L958.35,346.72 L964.81,344.14 L971.26,346.72 L992.77,345.65 L1012.13,346.72 L1020.73,340.7 L1029.34,345 L1044.39,346.72 L1057.3,342.42 L1063.75,345 L1070.21,344.14 L1078.81,345.65 L1089.57,342.85 L1100.32,342.42 L1108.92,338.55 L1115.38,341.99 L1128.28,338.55 L1139.04,339.84 L1154.2,342.42 L1168.91,344.79 L1177.51,344.14 L1186.11,341.35 L1192.57,342.64 L1201.17,346.94 L1220.53,346.29 L1233.44,344.79 L1246.34,345.65 L1263.55,346.94 L1306.57,346.94 L1319.48,345.65 L1328.08,345.22 L1336.68,341.99 L1343.14,341.99 L1349.59,346.94 L1362.5,345.22 L1371.1,343.07 L1384.01,344.14 L1390.46,345.65 L1403.37,344.14 L1414.12,346.29 L1420.57,338.77 L1427.03,341.35 L1435.63,338.77 L1442.08,340.92 L1448.54,336.61 L1454.99,333.39 L1461.44,340.92 L1467.9,343.5 L1467.9,343.5 L1467.9,347.8 Z" fill="#0000ff" stroke="#000" stroke-width="1.1" stroke-linejoin="round"/>
<line x1="849.3" y1="347.8" x2="1467.9" y2="347.8" stroke="#000" stroke-width="1.3" />
<path d="M849.3,379.5 L849.3,375.91 L855.11,376.49 L863.71,375.84 L872.31,373.05 L878.77,374.34 L887.37,378.64 L906.73,377.99 L919.64,376.49 L932.54,377.35 L949.75,378.64 L992.77,378.64 L1005.68,377.35 L1014.28,376.92 L1022.88,373.69 L1029.34,373.69 L1035.79,378.64 L1048.7,376.92 L1057.3,374.77 L1070.21,375.84 L1076.66,377.35 L1089.57,375.84 L1100.32,377.99 L1106.77,370.47 L1113.23,373.05 L1121.83,370.47 L1128.28,372.62 L1134.74,368.31 L1141.19,365.09 L1147.64,372.62 L1154.2,375.41 L1164.6,376.92 L1173.21,378.42 L1179.66,377.35 L1190.42,377.35 L1199.02,376.92 L1205.47,379.07 L1220.53,379.07 L1231.29,377.78 L1242.04,379.07 L1252.8,376.92 L1263.55,379.07 L1278.61,377.35 L1289.36,379.07 L1306.57,378.42 L1319.48,379.07 L1328.08,378.42 L1332.38,377.35 L1337.76,372.62 L1345.29,375.2 L1351.74,378.42 L1362.5,375.63 L1368.95,378.42 L1379.7,375.63 L1390.46,373.48 L1401.21,376.92 L1414.12,372.62 L1427.03,367.02 L1434.55,372.62 L1450.69,373.48 L1467.9,374.77 L1467.9,374.77 L1467.9,379.5 Z" fill="#0000ff" stroke="#000" stroke-width="1.1" stroke-linejoin="round"/>
<line x1="849.3" y1="379.5" x2="1467.9" y2="379.5" stroke="#000" stroke-width="1.3" />
<path d="M849.3,411 L849.3,408.19 L850.8,408.42 L859.41,409.92 L865.86,408.85 L876.62,408.85 L885.22,408.42 L891.67,410.57 L906.73,410.57 L917.49,409.28 L928.24,410.57 L939,408.42 L949.75,410.57 L964.81,408.85 L975.56,410.57 L992.77,409.92 L1005.68,410.57 L1014.28,409.92 L1018.58,408.85 L1023.96,404.12 L1031.49,406.7 L1037.94,409.92 L1048.7,407.13 L1055.15,409.92 L1065.9,407.13 L1076.66,404.98 L1087.41,408.42 L1100.32,404.12 L1113.23,398.52 L1120.75,404.12 L1136.89,404.98 L1154.2,407.24 L1166.76,409.71 L1175.36,408.85 L1186.11,404.55 L1192.57,405.41 L1199.02,410.35 L1220.53,410.35 L1231.29,408.85 L1237.74,410.35 L1263.55,409.71 L1285.06,409.71 L1306.57,410.35 L1328.08,410.35 L1334.53,405.41 L1343.14,404.98 L1351.74,408.2 L1362.5,404.98 L1371.1,407.13 L1381.86,406.7 L1392.61,403.9 L1403.37,402.4 L1414.12,403.26 L1420.57,402.4 L1429.18,402.83 L1435.63,403.9 L1446.39,405.41 L1454.99,402.4 L1460.37,408.85 L1467.9,408.85 L1467.9,408.85 L1467.9,411 Z" fill="#0000ff" stroke="#000" stroke-width="1.1" stroke-linejoin="round"/>
<line x1="849.3" y1="411" x2="1467.9" y2="411" stroke="#000" stroke-width="1.3" />
<path d="M849.3,443.6 L849.3,441.8 L852.96,442.31 L861.56,441.45 L872.31,437.15 L878.77,438.01 L885.22,442.95 L906.73,442.95 L917.49,441.45 L923.94,442.95 L949.75,442.31 L971.26,442.31 L992.77,442.95 L1014.28,442.95 L1020.73,438.01 L1029.34,437.58 L1037.94,440.8 L1048.7,437.58 L1057.3,439.73 L1068.06,439.3 L1078.81,436.5 L1089.57,435 L1100.32,435.86 L1106.77,435 L1115.38,435.43 L1121.83,436.5 L1132.59,438.01 L1141.19,435 L1146.57,441.45 L1154.2,440.59 L1173.21,440.37 L1185.04,433.92 L1192.57,436.07 L1201.17,438.87 L1209.78,441.45 L1220.53,442.52 L1237.74,441.45 L1248.49,443.17 L1259.25,441.45 L1276.46,441.45 L1293.66,442.52 L1306.57,443.17 L1328.08,443.17 L1336.68,439.73 L1345.29,440.37 L1351.74,443.17 L1358.19,439.73 L1366.8,441.02 L1377.55,438.22 L1386.16,439.73 L1395.84,433.92 L1403.37,436.72 L1414.12,433.92 L1422.72,435 L1433.48,432.84 L1442.08,438.22 L1450.69,437.15 L1461.44,441.45 L1467.9,441.88 L1467.9,441.88 L1467.9,443.6 Z" fill="#0000ff" stroke="#000" stroke-width="1.1" stroke-linejoin="round"/>
<line x1="849.3" y1="443.6" x2="1467.9" y2="443.6" stroke="#000" stroke-width="1.3" />
<path d="M849.3,475.7 L849.3,472.09 L859.41,472.47 L871.24,466.02 L878.77,468.17 L887.37,470.97 L895.98,473.55 L906.73,474.62 L923.94,473.55 L934.69,475.27 L945.45,473.55 L962.66,473.55 L979.86,474.62 L992.77,475.27 L1014.28,475.27 L1022.88,471.83 L1031.49,472.47 L1037.94,475.27 L1044.39,471.83 L1053,473.12 L1063.75,470.32 L1072.36,471.83 L1082.04,466.02 L1089.57,468.82 L1100.32,466.02 L1108.92,467.1 L1119.68,464.94 L1128.28,470.32 L1136.89,469.25 L1147.64,473.55 L1154.2,473.76 L1164.6,475.05 L1177.51,475.7 L1188.27,475.05 L1199.02,474.41 L1211.93,472.9 L1224.83,470.75 L1237.74,470.11 L1259.25,468.6 L1272.15,470.11 L1278.61,467.1 L1285.06,472.9 L1306.57,473.55 L1315.17,474.41 L1323.78,473.55 L1334.53,471.4 L1345.29,472.9 L1358.19,471.83 L1368.95,469.25 L1375.4,470.75 L1381.86,464.3 L1388.31,465.38 L1394.76,464.3 L1405.52,465.38 L1418.42,465.81 L1427.03,468.6 L1433.48,471.83 L1439.93,470.11 L1448.54,470.75 L1459.29,470.11 L1467.9,473.98 L1467.9,473.98 L1467.9,475.7 Z" fill="#0000ff" stroke="#000" stroke-width="1.1" stroke-linejoin="round"/>
<line x1="849.3" y1="475.7" x2="1467.9" y2="475.7" stroke="#000" stroke-width="1.3" />
<path d="M849.3,507.5 L849.3,506.59 L850.8,506.85 L863.71,507.5 L874.47,506.85 L885.22,506.21 L898.13,504.7 L911.03,502.55 L923.94,501.91 L945.45,500.4 L958.35,501.91 L964.81,498.9 L971.26,504.7 L992.77,505.35 L1001.37,506.21 L1009.98,505.35 L1020.73,503.2 L1031.49,504.7 L1044.39,503.63 L1055.15,501.05 L1061.6,502.55 L1068.06,496.1 L1074.51,497.18 L1080.96,496.1 L1091.72,497.18 L1104.62,497.61 L1113.23,500.4 L1119.68,503.63 L1126.13,501.91 L1134.74,502.55 L1145.49,501.91 L1154.2,505.89 L1199.02,506.42 L1209.78,505.35 L1220.53,503.84 L1231.29,502.12 L1237.74,504.27 L1246.34,501.05 L1254.95,501.05 L1261.4,502.12 L1267.85,501.05 L1274.31,502.12 L1280.76,504.27 L1293.66,504.27 L1306.57,504.7 L1317.33,503.2 L1328.08,505.99 L1336.68,503.84 L1349.59,503.84 L1358.19,504.7 L1362.5,503.84 L1371.1,506.42 L1375.4,507.5 L1375.4,507.5 L1467.9,507.5 L1467.9,507.5 Z" fill="#0000ff" stroke="#000" stroke-width="1.1" stroke-linejoin="round"/>
<line x1="849.3" y1="507.5" x2="1467.9" y2="507.5" stroke="#000" stroke-width="1.3" />
<path d="M849.3,539.3 L849.3,537.87 L885.22,538.22 L895.98,537.15 L906.73,535.64 L917.49,533.92 L923.94,536.07 L932.54,532.85 L941.15,532.85 L947.6,533.92 L954.05,532.85 L960.51,533.92 L966.96,536.07 L979.86,536.07 L992.77,536.5 L1003.53,535 L1014.28,537.79 L1022.88,535.64 L1035.79,535.64 L1044.39,536.5 L1048.7,535.64 L1057.3,538.22 L1061.6,539.3 L1061.6,539.3 L1154.2,539.3 L1467.9,539.3 L1467.9,539.3 Z" fill="#0000ff" stroke="#000" stroke-width="1.1" stroke-linejoin="round"/>
<line x1="849.3" y1="539.3" x2="1467.9" y2="539.3" stroke="#000" stroke-width="1.3" />
<line x1="919.4" y1="97" x2="919.4" y2="539.3" stroke="#000" stroke-width="1.5" stroke-dasharray="1.5 5.75"/>
<line x1="998.2" y1="97" x2="998.2" y2="539.3" stroke="#000" stroke-width="1.5" stroke-dasharray="1.5 5.75"/>
<line x1="1076" y1="97" x2="1076" y2="539.3" stroke="#000" stroke-width="1.5" stroke-dasharray="1.5 5.75"/>
<line x1="1154.3" y1="97" x2="1154.3" y2="539.3" stroke="#000" stroke-width="1.5" stroke-dasharray="1.5 5.75"/>
<line x1="1233" y1="97" x2="1233" y2="539.3" stroke="#000" stroke-width="1.5" stroke-dasharray="1.5 5.75"/>
<line x1="1310.9" y1="97" x2="1310.9" y2="539.3" stroke="#000" stroke-width="1.5" stroke-dasharray="1.5 5.75"/>
<line x1="1389.9" y1="97" x2="1389.9" y2="539.3" stroke="#000" stroke-width="1.5" stroke-dasharray="1.5 5.75"/>
<line x1="1467.8" y1="97" x2="1467.8" y2="539.3" stroke="#000" stroke-width="1.5" stroke-dasharray="1.5 5.75"/>
<line x1="849.3" y1="95.8" x2="849.3" y2="544.1" stroke="#222" stroke-width="1.5" />
<line x1="848.6" y1="543.4" x2="1474.8" y2="543.4" stroke="#222" stroke-width="1.5" />
<line x1="919.4" y1="543.4" x2="919.4" y2="534.9" stroke="#222" stroke-width="1.3" />
<line x1="998.2" y1="543.4" x2="998.2" y2="534.9" stroke="#222" stroke-width="1.3" />
<line x1="1076" y1="543.4" x2="1076" y2="534.9" stroke="#222" stroke-width="1.3" />
<line x1="1154.3" y1="543.4" x2="1154.3" y2="534.9" stroke="#222" stroke-width="1.3" />
<line x1="1233" y1="543.4" x2="1233" y2="534.9" stroke="#222" stroke-width="1.3" />
<line x1="1310.9" y1="543.4" x2="1310.9" y2="534.9" stroke="#222" stroke-width="1.3" />
<line x1="1389.9" y1="543.4" x2="1389.9" y2="534.9" stroke="#222" stroke-width="1.3" />
<line x1="1467.8" y1="543.4" x2="1467.8" y2="534.9" stroke="#222" stroke-width="1.3" />
<text transform="translate(910.82,566.2) scale(0.9000,1)" font-size="18.5" font-style="normal" font-weight="normal" fill="#111" stroke="#fff" stroke-width="0.22">6</text>
<g transform="translate(988.71,566.2) scale(0.9000,1)" fill="#111" stroke="#fff" stroke-width="0.22"><text font-size="18.5" font-style="normal" font-weight="normal"> 2</text>
<path d="M6.9,0.0 L5.3,0.0 L5.3,-10.3 L4.8,-9.9 L4.2,-9.4 L3.4,-9.0 L2.7,-8.6 L2.1,-8.3 L2.1,-9.9 L3.0,-10.3 L3.9,-10.9 L4.7,-11.7 L5.3,-12.3 L5.6,-12.7 L6.9,-12.7 Z"/>
</g>
<g transform="translate(1065.75,566.2) scale(0.9000,1)" fill="#111" stroke="#fff" stroke-width="0.22"><text font-size="18.5" font-style="normal" font-weight="normal"> 8</text>
<path d="M6.9,0.0 L5.3,0.0 L5.3,-10.3 L4.8,-9.9 L4.2,-9.4 L3.4,-9.0 L2.7,-8.6 L2.1,-8.3 L2.1,-9.9 L3.0,-10.3 L3.9,-10.9 L4.7,-11.7 L5.3,-12.3 L5.6,-12.7 L6.9,-12.7 Z"/>
</g>
<text transform="translate(1145.68,566.2) scale(0.9000,1)" font-size="18.5" font-style="normal" font-weight="normal" fill="#111" stroke="#fff" stroke-width="0.22">0</text>
<text transform="translate(1224.72,566.2) scale(0.9000,1)" font-size="18.5" font-style="normal" font-weight="normal" fill="#111" stroke="#fff" stroke-width="0.22">6</text>
<g transform="translate(1300.21,566.2) scale(0.9000,1)" fill="#111" stroke="#fff" stroke-width="0.22"><text font-size="18.5" font-style="normal" font-weight="normal"> 2</text>
<path d="M6.9,0.0 L5.3,0.0 L5.3,-10.3 L4.8,-9.9 L4.2,-9.4 L3.4,-9.0 L2.7,-8.6 L2.1,-8.3 L2.1,-9.9 L3.0,-10.3 L3.9,-10.9 L4.7,-11.7 L5.3,-12.3 L5.6,-12.7 L6.9,-12.7 Z"/>
</g>
<g transform="translate(1379.45,566.2) scale(0.9000,1)" fill="#111" stroke="#fff" stroke-width="0.22"><text font-size="18.5" font-style="normal" font-weight="normal"> 8</text>
<path d="M6.9,0.0 L5.3,0.0 L5.3,-10.3 L4.8,-9.9 L4.2,-9.4 L3.4,-9.0 L2.7,-8.6 L2.1,-8.3 L2.1,-9.9 L3.0,-10.3 L3.9,-10.9 L4.7,-11.7 L5.3,-12.3 L5.6,-12.7 L6.9,-12.7 Z"/>
</g>
<text transform="translate(1459.28,566.2) scale(0.9000,1)" font-size="18.5" font-style="normal" font-weight="normal" fill="#111" stroke="#fff" stroke-width="0.22">0</text>
<text transform="translate(1126.92,590.2) scale(0.9114,1)" font-size="20.62" font-style="normal" font-weight="normal" fill="#111" stroke="#fff" stroke-width="0.22">time (h)</text>
<g transform="translate(826.58,132.5) scale(0.8500,1)" fill="#111" stroke="#fff" stroke-width="0.22"><text font-size="20" font-style="normal" font-weight="normal"> </text>
<path d="M7.5,0.0 L5.7,0.0 L5.7,-11.2 L5.2,-10.7 L4.5,-10.2 L3.7,-9.7 L2.9,-9.3 L2.2,-9.0 L2.2,-10.7 L3.2,-11.2 L4.2,-11.8 L5.1,-12.6 L5.7,-13.3 L6.1,-13.8 L7.5,-13.8 Z"/>
</g>
<text transform="translate(825.96,164.2) scale(0.8500,1)" font-size="20" font-style="normal" font-weight="normal" fill="#111" stroke="#fff" stroke-width="0.22">2</text>
<text transform="translate(826.03,195.6) scale(0.8500,1)" font-size="20" font-style="normal" font-weight="normal" fill="#111" stroke="#fff" stroke-width="0.22">3</text>
<text transform="translate(826.03,227.2) scale(0.8500,1)" font-size="20" font-style="normal" font-weight="normal" fill="#111" stroke="#fff" stroke-width="0.22">4</text>
<text transform="translate(825.98,258.8) scale(0.8500,1)" font-size="20" font-style="normal" font-weight="normal" fill="#111" stroke="#fff" stroke-width="0.22">5</text>
<text transform="translate(825.92,291.5) scale(0.8500,1)" font-size="20" font-style="normal" font-weight="normal" fill="#111" stroke="#fff" stroke-width="0.22">6</text>
<text transform="translate(825.96,323.2) scale(0.8500,1)" font-size="20" font-style="normal" font-weight="normal" fill="#111" stroke="#fff" stroke-width="0.22">7</text>
<text transform="translate(825.96,355) scale(0.8500,1)" font-size="20" font-style="normal" font-weight="normal" fill="#111" stroke="#fff" stroke-width="0.22">8</text>
<text transform="translate(825.98,386.7) scale(0.8500,1)" font-size="20" font-style="normal" font-weight="normal" fill="#111" stroke="#fff" stroke-width="0.22">9</text>
<g transform="translate(821.82,418.2) scale(0.8500,1)" fill="#111" stroke="#fff" stroke-width="0.22"><text font-size="20" font-style="normal" font-weight="normal"> 0</text>
<path d="M7.5,0.0 L5.7,0.0 L5.7,-11.2 L5.2,-10.7 L4.5,-10.2 L3.7,-9.7 L2.9,-9.3 L2.2,-9.0 L2.2,-10.7 L3.2,-11.2 L4.2,-11.8 L5.1,-12.6 L5.7,-13.3 L6.1,-13.8 L7.5,-13.8 Z"/>
</g>
<g transform="translate(823.05,450.8) scale(0.8500,1)" fill="#111" stroke="#fff" stroke-width="0.22"><text font-size="20" font-style="normal" font-weight="normal">  </text>
<path d="M7.5,0.0 L5.7,0.0 L5.7,-11.2 L5.2,-10.7 L4.5,-10.2 L3.7,-9.7 L2.9,-9.3 L2.2,-9.0 L2.2,-10.7 L3.2,-11.2 L4.2,-11.8 L5.1,-12.6 L5.7,-13.3 L6.1,-13.8 L7.5,-13.8 Z"/>
<path d="M18.6,0.0 L16.8,0.0 L16.8,-11.2 L16.3,-10.7 L15.6,-10.2 L14.8,-9.7 L14.1,-9.3 L13.4,-9.0 L13.4,-10.7 L14.3,-11.2 L15.3,-11.8 L16.2,-12.6 L16.8,-13.3 L17.2,-13.8 L18.6,-13.8 Z"/>
</g>
<g transform="translate(821.9,482.9) scale(0.8500,1)" fill="#111" stroke="#fff" stroke-width="0.22"><text font-size="20" font-style="normal" font-weight="normal"> 2</text>
<path d="M7.5,0.0 L5.7,0.0 L5.7,-11.2 L5.2,-10.7 L4.5,-10.2 L3.7,-9.7 L2.9,-9.3 L2.2,-9.0 L2.2,-10.7 L3.2,-11.2 L4.2,-11.8 L5.1,-12.6 L5.7,-13.3 L6.1,-13.8 L7.5,-13.8 Z"/>
</g>
<g transform="translate(821.86,514.7) scale(0.8500,1)" fill="#111" stroke="#fff" stroke-width="0.22"><text font-size="20" font-style="normal" font-weight="normal"> 3</text>
<path d="M7.5,0.0 L5.7,0.0 L5.7,-11.2 L5.2,-10.7 L4.5,-10.2 L3.7,-9.7 L2.9,-9.3 L2.2,-9.0 L2.2,-10.7 L3.2,-11.2 L4.2,-11.8 L5.1,-12.6 L5.7,-13.3 L6.1,-13.8 L7.5,-13.8 Z"/>
</g>
<g transform="translate(821.73,546.5) scale(0.8500,1)" fill="#111" stroke="#fff" stroke-width="0.22"><text font-size="20" font-style="normal" font-weight="normal"> 4</text>
<path d="M7.5,0.0 L5.7,0.0 L5.7,-11.2 L5.2,-10.7 L4.5,-10.2 L3.7,-9.7 L2.9,-9.3 L2.2,-9.0 L2.2,-10.7 L3.2,-11.2 L4.2,-11.8 L5.1,-12.6 L5.7,-13.3 L6.1,-13.8 L7.5,-13.8 Z"/>
</g>
<text transform="translate(36.87,23.8) scale(0.8485,1)" font-size="44.28" font-style="normal" font-weight="bold" fill="#000">a</text>
<text transform="translate(44.21,628.5) scale(0.9300,1)" font-size="46.21" font-style="normal" font-weight="bold" fill="#000">b</text>
<text transform="translate(39.86,1204.9) scale(0.8100,1)" font-size="44.09" font-style="normal" font-weight="bold" fill="#000">c</text>
<text transform="translate(189.78,62.3) scale(0.9919,1)" font-size="49.89" font-style="italic" font-weight="normal" fill="#000">s-tim,GMR-hid;cry</text>
<text transform="translate(591.51,45.9) scale(0.9859,1)" font-size="33.26" font-style="italic" font-weight="normal" fill="#000">01</text>
<text transform="translate(969.77,63.1) scale(0.9735,1)" font-size="50.33" font-style="italic" font-weight="normal" fill="#000">norpA</text>
<text transform="translate(1102.29,46) scale(0.8988,1)" font-size="33.75" font-style="italic" font-weight="normal" fill="#000">P41</text>
<text transform="translate(1154.32,63.1) scale(1.0390,1)" font-size="48.5" font-style="italic" font-weight="normal" fill="#000">;s-tim;cry</text>
<text transform="translate(1361.41,46) scale(0.9832,1)" font-size="33.26" font-style="italic" font-weight="normal" fill="#000">02</text>
<path d="M95,95.6 Q89,95.6 89,99 L89,178 Q89,181.5 95,181.5" fill="none" stroke="#1a1a1a" stroke-width="1.8"/>
<path d="M83.6,138.8 L89,138.8" fill="none" stroke="#1a1a1a" stroke-width="1.8"/>
<path d="M95,183.4 Q89,183.4 89,187 L89,471 Q89,474 94.7,474.2" fill="none" stroke="#1a1a1a" stroke-width="1.8"/>
<path d="M83.6,235.4 L89,235.4" fill="none" stroke="#1a1a1a" stroke-width="1.8"/>
<path d="M89,286 L94.8,286" fill="none" stroke="#1a1a1a" stroke-width="1.8"/>
<path d="M83,379.7 L89,379.7" fill="none" stroke="#1a1a1a" stroke-width="1.8"/>
<path d="M94.7,476.1 Q89,476.1 89,479 L89,532 Q89,535.2 94.7,535.2" fill="none" stroke="#1a1a1a" stroke-width="1.8"/>
<path d="M83,506.3 L89,506.3" fill="none" stroke="#1a1a1a" stroke-width="1.8"/>
<text transform="translate(28.43,138.8) scale(0.9034,1)" font-size="32.73" font-style="normal" font-weight="normal" fill="#000">LD</text>
<text transform="translate(32.74,222.9) scale(0.8429,1)" font-size="33.45" font-style="normal" font-weight="normal" fill="#000">LL</text>
<text transform="translate(-1.61,358) scale(0.7887,1)" font-size="33.45" font-style="normal" font-weight="normal" fill="#000">LLTC</text>
<text transform="translate(33.76,521.4) scale(0.8594,1)" font-size="32.58" font-style="normal" font-weight="normal" fill="#000">LL</text>
<text transform="translate(808.3,335.61) rotate(-90) scale(1.0458,1)" font-size="16.97" font-style="normal" font-weight="normal" fill="#111">day</text>
<line x1="177.3" y1="684.7" x2="177.3" y2="1005.9" stroke="#000" stroke-width="2.2" />
<line x1="169" y1="1004.9" x2="177.3" y2="1004.9" stroke="#000" stroke-width="2" />
<text transform="translate(138.06,1013.4) scale(1.0000,1)" font-size="28.1" font-style="normal" font-weight="normal" fill="#595959">0</text>
<line x1="169" y1="941.06" x2="177.3" y2="941.06" stroke="#000" stroke-width="2" />
<text transform="translate(122.46,949.56) scale(1.0000,1)" font-size="28.1" font-style="normal" font-weight="normal" fill="#595959">20</text>
<line x1="169" y1="877.22" x2="177.3" y2="877.22" stroke="#000" stroke-width="2" />
<text transform="translate(122.46,885.72) scale(1.0000,1)" font-size="28.1" font-style="normal" font-weight="normal" fill="#595959">40</text>
<line x1="169" y1="813.38" x2="177.3" y2="813.38" stroke="#000" stroke-width="2" />
<text transform="translate(122.46,821.88) scale(1.0000,1)" font-size="28.1" font-style="normal" font-weight="normal" fill="#595959">60</text>
<line x1="169" y1="749.54" x2="177.3" y2="749.54" stroke="#000" stroke-width="2" />
<text transform="translate(122.46,758.04) scale(1.0000,1)" font-size="28.1" font-style="normal" font-weight="normal" fill="#595959">80</text>
<line x1="169" y1="685.7" x2="177.3" y2="685.7" stroke="#000" stroke-width="2" />
<g transform="translate(106.8,694.2) scale(1.0000,1)" fill="#595959"><text font-size="28.1" font-style="normal" font-weight="normal"> 00</text>
<path d="M10.5,0.0 L8.0,0.0 L8.0,-15.7 L7.3,-15.0 L6.3,-14.3 L5.2,-13.6 L4.1,-13.1 L3.2,-12.7 L3.2,-15.0 L4.5,-15.7 L5.9,-16.6 L7.1,-17.7 L8.0,-18.7 L8.5,-19.3 L10.5,-19.3 Z"/>
</g>
<polyline points="181.60,974.90 191.49,1004.90 201.38,1004.90 211.27,1004.90 221.16,1004.90 231.05,1004.90 240.94,1004.90 250.83,1004.90 260.72,1004.90 270.61,1004.90 280.50,1004.90 290.39,1004.90 300.28,996.92 310.17,955.42 320.06,903.39 329.95,884.56 339.84,865.41 349.73,877.54 359.62,876.26 369.51,873.39 379.40,867.32 389.29,838.28 399.18,837.32 409.07,850.41 418.96,737.41 428.85,904.67 438.74,968.83 448.63,1002.98 458.52,1004.90 468.41,1004.90 478.30,1004.90 488.19,1004.90 498.08,1004.90 507.97,1004.90 517.86,1004.90 527.75,1004.90 537.64,1004.90 547.53,1004.90 557.42,1004.90 567.31,1004.90 577.20,1004.90 587.09,1004.90 596.98,1004.90 606.87,1004.90 616.76,1004.90 626.65,1004.90 636.54,1004.90 646.43,1004.90" fill="none" stroke="#4472c4" stroke-width="4.6" stroke-linejoin="round" stroke-linecap="round" />
<polyline points="181.60,977.77 191.49,1004.90 201.38,1004.90 211.27,1004.90 221.16,995.96 231.05,1004.90 240.94,987.98 250.83,988.94 260.72,975.85 270.61,924.46 280.50,945.53 290.39,913.61 300.28,926.70 310.17,916.48 320.06,924.46 329.95,946.81 339.84,972.66 349.73,969.79 359.62,979.68 369.51,1004.90 379.40,1004.90 389.29,1004.90 399.18,1004.90 409.07,1004.90 418.96,972.98 428.85,940.74 438.74,998.84 448.63,1004.90 458.52,1004.90 468.41,1004.90 478.30,1004.90 488.19,1004.90 498.08,1004.90 507.97,1004.90 517.86,1004.90 527.75,1004.90 537.64,1004.90 547.53,1004.90 557.42,1004.90 567.31,1004.90 577.20,1004.90 587.09,1004.90 596.98,1004.90 606.87,1004.90 616.76,1004.90 626.65,1004.90 636.54,1004.90 646.43,1004.90" fill="none" stroke="#ed7d31" stroke-width="4.6" stroke-linejoin="round" stroke-linecap="round" />
<polyline points="181.60,976.81 191.49,980.32 201.38,953.83 211.27,960.85 221.16,942.66 231.05,962.77 240.94,952.55 250.83,908.50 260.72,875.30 270.61,874.35 280.50,888.39 290.39,908.50 300.28,944.57 310.17,927.65 320.06,935.63 329.95,963.72 339.84,969.79 349.73,962.77 359.62,932.76 369.51,987.98 379.40,970.75 389.29,988.94 399.18,963.72 409.07,1002.98 418.96,995.96 428.85,1004.90 438.74,1004.90 448.63,1004.90 458.52,1004.90 468.41,1004.90 478.30,1004.90 488.19,1004.90 498.08,1004.90 507.97,1004.90 517.86,1004.90 527.75,1004.90 537.64,1004.90 547.53,1004.90 557.42,1004.90 567.31,1004.90 577.20,1004.90 587.09,1004.90 596.98,1004.90 606.87,1004.90 616.76,1004.90 626.65,1004.90 636.54,1004.90 646.43,1004.90" fill="none" stroke="#a5a5a5" stroke-width="4.6" stroke-linejoin="round" stroke-linecap="round" />
<rect x="177.30" y="1006.00" width="240.30" height="24.60" fill="#ffc000" stroke="#000" stroke-width="2.1"/>
<rect x="417.60" y="1006.00" width="240.40" height="24.60" fill="#5b9bd5" stroke="#000" stroke-width="2.1"/>
<text transform="translate(383.39,684.7) scale(0.8335,1)" font-size="39.13" font-style="normal" font-weight="normal" fill="#000">LLTC6</text>
<text transform="translate(101.3,976.12) rotate(-90) scale(0.9401,1)" font-size="32.15" font-style="normal" font-weight="normal" fill="#000">Normalised activity</text>
<line x1="923.3" y1="686.9" x2="923.3" y2="1008.1" stroke="#000" stroke-width="2.2" />
<line x1="915" y1="1007.1" x2="923.3" y2="1007.1" stroke="#000" stroke-width="2" />
<text transform="translate(884.06,1015.6) scale(1.0000,1)" font-size="28.1" font-style="normal" font-weight="normal" fill="#595959">0</text>
<line x1="915" y1="943.26" x2="923.3" y2="943.26" stroke="#000" stroke-width="2" />
<text transform="translate(868.46,951.76) scale(1.0000,1)" font-size="28.1" font-style="normal" font-weight="normal" fill="#595959">20</text>
<line x1="915" y1="879.42" x2="923.3" y2="879.42" stroke="#000" stroke-width="2" />
<text transform="translate(868.46,887.92) scale(1.0000,1)" font-size="28.1" font-style="normal" font-weight="normal" fill="#595959">40</text>
<line x1="915" y1="815.58" x2="923.3" y2="815.58" stroke="#000" stroke-width="2" />
<text transform="translate(868.46,824.08) scale(1.0000,1)" font-size="28.1" font-style="normal" font-weight="normal" fill="#595959">60</text>
<line x1="915" y1="751.74" x2="923.3" y2="751.74" stroke="#000" stroke-width="2" />
<text transform="translate(868.46,760.24) scale(1.0000,1)" font-size="28.1" font-style="normal" font-weight="normal" fill="#595959">80</text>
<line x1="915" y1="687.9" x2="923.3" y2="687.9" stroke="#000" stroke-width="2" />
<g transform="translate(852.8,696.4) scale(1.0000,1)" fill="#595959"><text font-size="28.1" font-style="normal" font-weight="normal"> 00</text>
<path d="M10.5,0.0 L8.0,0.0 L8.0,-15.7 L7.3,-15.0 L6.3,-14.3 L5.2,-13.6 L4.1,-13.1 L3.2,-12.7 L3.2,-15.0 L4.5,-15.7 L5.9,-16.6 L7.1,-17.7 L8.0,-18.7 L8.5,-19.3 L10.5,-19.3 Z"/>
</g>
<polyline points="927.50,1007.10 937.39,1007.10 947.28,1007.10 957.17,1007.10 967.06,1007.10 976.95,1007.10 986.84,1007.10 996.73,1007.10 1006.62,1007.10 1016.51,1007.10 1026.40,982.20 1036.29,961.77 1046.18,984.12 1056.07,968.80 1065.96,964.65 1075.85,905.28 1085.74,923.47 1095.63,876.23 1105.52,873.67 1115.41,900.49 1125.30,909.42 1135.19,894.42 1145.08,853.56 1154.97,853.88 1164.86,890.91 1174.75,866.65 1184.64,859.63 1194.53,851.01 1204.42,846.86 1214.31,855.16 1224.20,896.34 1234.09,904.00 1243.98,900.49 1253.87,909.11 1263.76,931.13 1273.65,970.07 1283.54,976.14 1293.43,964.97 1303.32,986.67 1313.21,997.20 1323.10,994.33 1332.99,1006.14 1342.88,1006.14 1352.77,993.69 1362.66,1006.14 1372.55,1007.10 1382.44,1007.10 1392.33,1007.10" fill="none" stroke="#4472c4" stroke-width="4.6" stroke-linejoin="round" stroke-linecap="round" />
<polyline points="927.50,999.12 937.39,1007.10 947.28,1007.10 957.17,1005.82 967.06,1007.10 976.95,990.82 986.84,961.45 996.73,954.75 1006.62,955.71 1016.51,917.09 1026.40,891.87 1036.29,916.13 1046.18,913.89 1056.07,919.64 1065.96,958.90 1075.85,962.41 1085.74,981.56 1095.63,982.20 1105.52,994.97 1115.41,990.82 1125.30,1005.50 1135.19,1007.10 1145.08,1007.10 1154.97,1007.10 1164.86,1007.10 1174.75,1007.10 1184.64,1007.10 1194.53,1007.10 1204.42,1007.10 1214.31,1006.14 1224.20,990.18 1234.09,1000.72 1243.98,983.16 1253.87,981.56 1263.76,979.65 1273.65,964.01 1283.54,964.97 1293.43,944.86 1303.32,953.47 1313.21,983.16 1323.10,983.16 1332.99,984.12 1342.88,992.74 1352.77,997.84 1362.66,991.14 1372.55,999.76 1382.44,986.67 1392.33,995.29" fill="none" stroke="#ed7d31" stroke-width="4.6" stroke-linejoin="round" stroke-linecap="round" />
<polyline points="927.50,913.26 937.39,905.28 947.28,894.42 957.17,908.79 967.06,884.53 976.95,900.17 986.84,828.03 996.73,820.05 1006.62,841.12 1016.51,851.01 1026.40,870.16 1036.29,889.63 1046.18,917.09 1056.07,952.20 1065.96,922.83 1075.85,973.90 1085.74,953.79 1095.63,964.01 1105.52,983.16 1115.41,976.46 1125.30,978.05 1135.19,998.16 1145.08,966.56 1154.97,965.92 1164.86,973.58 1174.75,991.14 1184.64,965.92 1194.53,985.71 1204.42,991.78 1214.31,971.99 1224.20,942.30 1234.09,947.41 1243.98,946.45 1253.87,928.26 1263.76,913.57 1273.65,908.47 1283.54,895.38 1293.43,904.96 1303.32,915.49 1313.21,951.88 1323.10,937.20 1332.99,963.05 1342.88,960.50 1352.77,971.03 1362.66,936.24 1372.55,940.71 1382.44,950.92 1392.33,932.73" fill="none" stroke="#a5a5a5" stroke-width="4.6" stroke-linejoin="round" stroke-linecap="round" />
<rect x="923.30" y="1008.20" width="240.50" height="24.60" fill="#ffc000" stroke="#000" stroke-width="2.1"/>
<rect x="1163.80" y="1008.20" width="240.50" height="24.60" fill="#ffc000" stroke="#000" stroke-width="2.1"/>
<text transform="translate(1143.66,684.6) scale(0.9178,1)" font-size="38.69" font-style="normal" font-weight="normal" fill="#000">LL2 after LLTC</text>
<text transform="translate(855.9,976.22) rotate(-90) scale(0.9534,1)" font-size="31.71" font-style="normal" font-weight="normal" fill="#000">Normalised activity</text>
<line x1="268.8" y1="1089.2" x2="309.7" y2="1089.2" stroke="#4472c4" stroke-width="4.8" />
<text transform="translate(315.91,1106) scale(0.9447,1)" font-size="38" font-style="italic" font-weight="normal" fill="#000">s-tim;cry</text>
<text transform="translate(452.68,1094.8) scale(0.9827,1)" font-size="24.5" font-style="italic" font-weight="normal" fill="#000">02</text>
<line x1="524.6" y1="1089.1" x2="565" y2="1089.1" stroke="#ed7d31" stroke-width="4.8" />
<text transform="translate(574.36,1106) scale(0.9515,1)" font-size="38" font-style="italic" font-weight="normal" fill="#000">norpA</text>
<g transform="translate(671.08,1094.8) scale(0.9846,1)" fill="#000"><text font-size="24.5" font-style="italic" font-weight="normal">P4 </text>
<path d="M37.8,0.0 L35.6,0.0 L38.5,-13.7 L37.8,-13.1 L36.8,-12.5 L35.7,-11.9 L34.7,-11.4 L33.7,-11.0 L34.2,-13.1 L35.5,-13.7 L36.9,-14.5 L38.2,-15.4 L39.1,-16.3 L39.7,-16.9 L41.4,-16.9 Z"/>
</g>
<text transform="translate(714.47,1106) scale(0.9497,1)" font-size="38" font-style="italic" font-weight="normal" fill="#000">;s-tim;cry</text>
<text transform="translate(861.98,1094.8) scale(0.9749,1)" font-size="24.5" font-style="italic" font-weight="normal" fill="#000">02</text>
<line x1="935.9" y1="1089.5" x2="976.6" y2="1089.5" stroke="#a5a5a5" stroke-width="4.8" />
<text transform="translate(986.59,1106) scale(0.9501,1)" font-size="38" font-style="italic" font-weight="normal" fill="#000">GMR-hid,s-tim;cry</text>
<g transform="translate(1278.69,1094.8) scale(0.9675,1)" fill="#000"><text font-size="24.5" font-style="italic" font-weight="normal">0 </text>
<path d="M21.4,0.0 L19.3,0.0 L22.2,-13.7 L21.4,-13.1 L20.5,-12.5 L19.4,-11.9 L18.3,-11.4 L17.4,-11.0 L17.8,-13.1 L19.2,-13.7 L20.5,-14.5 L21.8,-15.4 L22.8,-16.3 L23.3,-16.9 L25.0,-16.9 Z"/>
</g>
<text transform="translate(692.65,1227.2) scale(0.9460,1)" font-size="38.55" font-style="italic" font-weight="bold" fill="#000">norpA</text>
<g transform="translate(799.58,1215.7) scale(0.9653,1)" fill="#000"><text font-size="24.73" font-style="italic" font-weight="bold">P4 </text>
<path d="M39.1,0.0 L35.7,0.0 L38.3,-12.2 L37.3,-11.5 L36.0,-10.8 L34.7,-10.3 L33.3,-9.8 L33.9,-12.8 L35.4,-13.3 L37.0,-14.1 L38.4,-15.2 L39.6,-16.3 L40.2,-17.0 L42.7,-17.0 Z"/>
</g>
<text transform="translate(843.04,1226.8) scale(0.9291,1)" font-size="38.5" font-style="italic" font-weight="bold" fill="#000">;s-tim;cry</text>
<text transform="translate(1009.2,1215.7) scale(0.9704,1)" font-size="23.08" font-style="italic" font-weight="bold" fill="#000">02</text>
<rect x="691.5" y="1230.4" width="343.1" height="4" fill="#000" />
<line x1="202.3" y1="1338.3" x2="202.3" y2="1557.2" stroke="#000" stroke-width="2.2" />
<line x1="194" y1="1556.2" x2="202.3" y2="1556.2" stroke="#000" stroke-width="2" />
<text transform="translate(163.71,1564.6) scale(1.0000,1)" font-size="27.8" font-style="normal" font-weight="normal" fill="#595959">0</text>
<line x1="194" y1="1483.9" x2="202.3" y2="1483.9" stroke="#000" stroke-width="2" />
<text transform="translate(163.78,1492.3) scale(1.0000,1)" font-size="27.8" font-style="normal" font-weight="normal" fill="#595959">5</text>
<line x1="194" y1="1411.6" x2="202.3" y2="1411.6" stroke="#000" stroke-width="2" />
<g transform="translate(148.25,1420) scale(1.0000,1)" fill="#595959"><text font-size="27.8" font-style="normal" font-weight="normal"> 0</text>
<path d="M10.4,0.0 L7.9,0.0 L7.9,-15.5 L7.2,-14.9 L6.2,-14.1 L5.2,-13.5 L4.1,-12.9 L3.1,-12.5 L3.1,-14.9 L4.5,-15.5 L5.8,-16.4 L7.1,-17.5 L7.9,-18.5 L8.4,-19.1 L10.4,-19.1 Z"/>
</g>
<line x1="194" y1="1339.3" x2="202.3" y2="1339.3" stroke="#000" stroke-width="2" />
<g transform="translate(148.32,1347.7) scale(1.0000,1)" fill="#595959"><text font-size="27.8" font-style="normal" font-weight="normal"> 5</text>
<path d="M10.4,0.0 L7.9,0.0 L7.9,-15.5 L7.2,-14.9 L6.2,-14.1 L5.2,-13.5 L4.1,-12.9 L3.1,-12.5 L3.1,-14.9 L4.5,-15.5 L5.8,-16.4 L7.1,-17.5 L7.9,-18.5 L8.4,-19.1 L10.4,-19.1 Z"/>
</g>
<path d="M265.00,1476.67 L265.00,1436.47 M258.10,1476.67 L271.90,1476.67 M258.10,1436.47 L271.90,1436.47" stroke="#595959" stroke-width="1.9" fill="none"/>
<path d="M265.00,1477.97 L265.00,1464.96 M258.10,1477.97 L271.90,1477.97 M258.10,1464.96 L271.90,1464.96" stroke="#595959" stroke-width="1.9" fill="none"/>
<path d="M515.00,1471.61 L515.00,1458.74 M508.10,1471.61 L521.90,1471.61 M508.10,1458.74 L521.90,1458.74" stroke="#595959" stroke-width="1.9" fill="none"/>
<path d="M515.00,1502.26 L515.00,1483.61 M508.10,1502.26 L521.90,1502.26 M508.10,1483.61 L521.90,1483.61" stroke="#595959" stroke-width="1.9" fill="none"/>
<path d="M640.00,1421.72 L640.00,1376.03 M633.10,1421.72 L646.90,1421.72 M633.10,1376.03 L646.90,1376.03" stroke="#595959" stroke-width="1.9" fill="none"/>
<path d="M640.00,1443.41 L640.00,1425.48 M633.10,1443.41 L646.90,1443.41 M633.10,1425.48 L646.90,1425.48" stroke="#595959" stroke-width="1.9" fill="none"/>
<path d="M640.00,1424.32 L640.00,1399.16 M633.10,1424.32 L646.90,1424.32 M633.10,1399.16 L646.90,1399.16" stroke="#595959" stroke-width="1.9" fill="none"/>
<path d="M265.00,1537.40 L265.00,1534.51 M258.10,1537.40 L271.90,1537.40 M258.10,1534.51 L271.90,1534.51" stroke="#595959" stroke-width="1.9" fill="none"/>
<path d="M390.00,1530.17 L390.00,1525.83 M383.10,1530.17 L396.90,1530.17 M383.10,1525.83 L396.90,1525.83" stroke="#595959" stroke-width="1.9" fill="none"/>
<path d="M390.00,1541.74 L390.00,1536.68 M383.10,1541.74 L396.90,1541.74 M383.10,1536.68 L396.90,1536.68" stroke="#595959" stroke-width="1.9" fill="none"/>
<polyline points="265.00,1471.03 390.00,1550.27 515.00,1493.30 640.00,1434.45" fill="none" stroke="#4472c4" stroke-width="4.7" stroke-linejoin="round" stroke-linecap="round" />
<circle cx="265.00" cy="1471.03" r="6.9" fill="#4472c4"/>
<circle cx="390.00" cy="1550.27" r="6.9" fill="#4472c4"/>
<circle cx="515.00" cy="1493.30" r="6.9" fill="#4472c4"/>
<circle cx="640.00" cy="1434.45" r="6.9" fill="#4472c4"/>
<polyline points="265.00,1535.96 390.00,1527.86 515.00,1465.25 640.00,1411.74" fill="none" stroke="#ed7d31" stroke-width="4.7" stroke-linejoin="round" stroke-linecap="round" />
<circle cx="265.00" cy="1535.96" r="6.9" fill="#ed7d31"/>
<circle cx="390.00" cy="1527.86" r="6.9" fill="#ed7d31"/>
<circle cx="515.00" cy="1465.25" r="6.9" fill="#ed7d31"/>
<circle cx="640.00" cy="1411.74" r="6.9" fill="#ed7d31"/>
<polyline points="265.00,1456.28 390.00,1539.14 515.00,1492.14 640.00,1398.88" fill="none" stroke="#a5a5a5" stroke-width="4.7" stroke-linejoin="round" stroke-linecap="round" />
<circle cx="265.00" cy="1456.28" r="6.9" fill="#a5a5a5"/>
<circle cx="390.00" cy="1539.14" r="6.9" fill="#a5a5a5"/>
<circle cx="515.00" cy="1492.14" r="6.9" fill="#a5a5a5"/>
<circle cx="640.00" cy="1398.88" r="6.9" fill="#a5a5a5"/>
<text transform="translate(138.9,1556.4) rotate(-90) scale(0.9500,1)" font-size="26.33" font-style="normal" font-weight="normal" fill="#000">Relative TIM level</text>
<text transform="translate(402.11,1326.8) scale(1.0103,1)" font-size="38.98" font-style="normal" font-weight="normal" fill="#000">TIM</text>
<line x1="997.7" y1="1295.33" x2="997.7" y2="1558.1" stroke="#000" stroke-width="2.2" />
<line x1="989.4" y1="1557.1" x2="997.7" y2="1557.1" stroke="#000" stroke-width="2" />
<text transform="translate(959.41,1565.5) scale(1.0000,1)" font-size="27.8" font-style="normal" font-weight="normal" fill="#595959">0</text>
<line x1="989.4" y1="1484.66" x2="997.7" y2="1484.66" stroke="#000" stroke-width="2" />
<text transform="translate(959.48,1493.06) scale(1.0000,1)" font-size="27.8" font-style="normal" font-weight="normal" fill="#595959">5</text>
<line x1="989.4" y1="1412.23" x2="997.7" y2="1412.23" stroke="#000" stroke-width="2" />
<g transform="translate(943.95,1420.63) scale(1.0000,1)" fill="#595959"><text font-size="27.8" font-style="normal" font-weight="normal"> 0</text>
<path d="M10.4,0.0 L7.9,0.0 L7.9,-15.5 L7.2,-14.9 L6.2,-14.1 L5.2,-13.5 L4.1,-12.9 L3.1,-12.5 L3.1,-14.9 L4.5,-15.5 L5.8,-16.4 L7.1,-17.5 L7.9,-18.5 L8.4,-19.1 L10.4,-19.1 Z"/>
</g>
<line x1="989.4" y1="1339.79" x2="997.7" y2="1339.79" stroke="#000" stroke-width="2" />
<g transform="translate(944.02,1348.19) scale(1.0000,1)" fill="#595959"><text font-size="27.8" font-style="normal" font-weight="normal"> 5</text>
<path d="M10.4,0.0 L7.9,0.0 L7.9,-15.5 L7.2,-14.9 L6.2,-14.1 L5.2,-13.5 L4.1,-12.9 L3.1,-12.5 L3.1,-14.9 L4.5,-15.5 L5.8,-16.4 L7.1,-17.5 L7.9,-18.5 L8.4,-19.1 L10.4,-19.1 Z"/>
</g>
<path d="M1061.00,1468.73 L1061.00,1349.94 M1054.10,1468.73 L1067.90,1468.73 M1054.10,1349.94 L1067.90,1349.94" stroke="#595959" stroke-width="1.9" fill="none"/>
<path d="M1061.00,1480.32 L1061.00,1451.34 M1054.10,1480.32 L1067.90,1480.32 M1054.10,1451.34 L1067.90,1451.34" stroke="#595959" stroke-width="1.9" fill="none"/>
<path d="M1061.00,1520.16 L1061.00,1510.02 M1054.10,1520.16 L1067.90,1520.16 M1054.10,1510.02 L1067.90,1510.02" stroke="#595959" stroke-width="1.9" fill="none"/>
<path d="M1186.00,1467.28 L1186.00,1439.76 M1179.10,1467.28 L1192.90,1467.28 M1179.10,1439.76 L1192.90,1439.76" stroke="#595959" stroke-width="1.9" fill="none"/>
<path d="M1186.00,1468.00 L1186.00,1457.86 M1179.10,1468.00 L1192.90,1468.00 M1179.10,1457.86 L1192.90,1457.86" stroke="#595959" stroke-width="1.9" fill="none"/>
<path d="M1311.00,1492.63 L1311.00,1477.42 M1304.10,1492.63 L1317.90,1492.63 M1304.10,1477.42 L1317.90,1477.42" stroke="#595959" stroke-width="1.9" fill="none"/>
<path d="M1311.00,1526.68 L1311.00,1502.05 M1304.10,1526.68 L1317.90,1526.68 M1304.10,1502.05 L1317.90,1502.05" stroke="#595959" stroke-width="1.9" fill="none"/>
<path d="M1311.00,1517.99 L1311.00,1509.29 M1304.10,1517.99 L1317.90,1517.99 M1304.10,1509.29 L1317.90,1509.29" stroke="#595959" stroke-width="1.9" fill="none"/>
<path d="M1436.00,1354.28 L1436.00,1303.58 M1429.10,1354.28 L1442.90,1354.28 M1429.10,1303.58 L1442.90,1303.58" stroke="#595959" stroke-width="1.9" fill="none"/>
<path d="M1436.00,1449.90 L1436.00,1416.58 M1429.10,1449.90 L1442.90,1449.90 M1429.10,1416.58 L1442.90,1416.58" stroke="#595959" stroke-width="1.9" fill="none"/>
<path d="M1436.00,1499.15 L1436.00,1478.87 M1429.10,1499.15 L1442.90,1499.15 M1429.10,1478.87 L1442.90,1478.87" stroke="#595959" stroke-width="1.9" fill="none"/>
<polyline points="1061.00,1466.27 1186.00,1462.93 1311.00,1513.64 1436.00,1490.46" fill="none" stroke="#4472c4" stroke-width="4.7" stroke-linejoin="round" stroke-linecap="round" />
<circle cx="1061.00" cy="1466.27" r="6.9" fill="#4472c4"/>
<circle cx="1186.00" cy="1462.93" r="6.9" fill="#4472c4"/>
<circle cx="1311.00" cy="1513.64" r="6.9" fill="#4472c4"/>
<circle cx="1436.00" cy="1490.46" r="6.9" fill="#4472c4"/>
<polyline points="1061.00,1515.09 1186.00,1542.61 1311.00,1484.66 1436.00,1328.21" fill="none" stroke="#ed7d31" stroke-width="4.7" stroke-linejoin="round" stroke-linecap="round" />
<circle cx="1061.00" cy="1515.09" r="6.9" fill="#ed7d31"/>
<circle cx="1186.00" cy="1542.61" r="6.9" fill="#ed7d31"/>
<circle cx="1311.00" cy="1484.66" r="6.9" fill="#ed7d31"/>
<circle cx="1436.00" cy="1328.21" r="6.9" fill="#ed7d31"/>
<polyline points="1061.00,1409.33 1186.00,1453.52 1311.00,1514.07 1436.00,1432.51" fill="none" stroke="#a5a5a5" stroke-width="4.7" stroke-linejoin="round" stroke-linecap="round" />
<circle cx="1061.00" cy="1409.33" r="6.9" fill="#a5a5a5"/>
<circle cx="1186.00" cy="1453.52" r="6.9" fill="#a5a5a5"/>
<circle cx="1311.00" cy="1514.07" r="6.9" fill="#a5a5a5"/>
<circle cx="1436.00" cy="1432.51" r="6.9" fill="#a5a5a5"/>
<text transform="translate(946.9,1545.89) rotate(-90) scale(0.8688,1)" font-size="27.2" font-style="normal" font-weight="normal" fill="#000">Relative PER level</text>
<text transform="translate(1183.68,1308.5) scale(0.8256,1)" font-size="38.11" font-style="normal" font-weight="normal" fill="#000">PER</text>
<line x1="202" y1="1650.85" x2="202" y2="1869.3" stroke="#000" stroke-width="2.2" />
<line x1="193.7" y1="1868.3" x2="202" y2="1868.3" stroke="#000" stroke-width="2" />
<text transform="translate(163.71,1876.7) scale(1.0000,1)" font-size="27.8" font-style="normal" font-weight="normal" fill="#595959">0</text>
<line x1="193.7" y1="1796.15" x2="202" y2="1796.15" stroke="#000" stroke-width="2" />
<text transform="translate(163.78,1804.55) scale(1.0000,1)" font-size="27.8" font-style="normal" font-weight="normal" fill="#595959">5</text>
<line x1="193.7" y1="1724" x2="202" y2="1724" stroke="#000" stroke-width="2" />
<g transform="translate(148.25,1732.4) scale(1.0000,1)" fill="#595959"><text font-size="27.8" font-style="normal" font-weight="normal"> 0</text>
<path d="M10.4,0.0 L7.9,0.0 L7.9,-15.5 L7.2,-14.9 L6.2,-14.1 L5.2,-13.5 L4.1,-12.9 L3.1,-12.5 L3.1,-14.9 L4.5,-15.5 L5.8,-16.4 L7.1,-17.5 L7.9,-18.5 L8.4,-19.1 L10.4,-19.1 Z"/>
</g>
<line x1="193.7" y1="1651.85" x2="202" y2="1651.85" stroke="#000" stroke-width="2" />
<g transform="translate(148.32,1660.25) scale(1.0000,1)" fill="#595959"><text font-size="27.8" font-style="normal" font-weight="normal"> 5</text>
<path d="M10.4,0.0 L7.9,0.0 L7.9,-15.5 L7.2,-14.9 L6.2,-14.1 L5.2,-13.5 L4.1,-12.9 L3.1,-12.5 L3.1,-14.9 L4.5,-15.5 L5.8,-16.4 L7.1,-17.5 L7.9,-18.5 L8.4,-19.1 L10.4,-19.1 Z"/>
</g>
<path d="M265.00,1800.05 L265.00,1787.06 M258.10,1800.05 L271.90,1800.05 M258.10,1787.06 L271.90,1787.06" stroke="#595959" stroke-width="1.9" fill="none"/>
<path d="M515.00,1812.31 L515.00,1799.32 M508.10,1812.31 L521.90,1812.31 M508.10,1799.32 L521.90,1799.32" stroke="#595959" stroke-width="1.9" fill="none"/>
<path d="M640.00,1722.56 L640.00,1692.25 M633.10,1722.56 L646.90,1722.56 M633.10,1692.25 L646.90,1692.25" stroke="#595959" stroke-width="1.9" fill="none"/>
<path d="M640.00,1805.96 L640.00,1800.77 M633.10,1805.96 L646.90,1805.96 M633.10,1800.77 L646.90,1800.77" stroke="#595959" stroke-width="1.9" fill="none"/>
<path d="M265.00,1832.95 L265.00,1828.62 M258.10,1832.95 L271.90,1832.95 M258.10,1828.62 L271.90,1828.62" stroke="#595959" stroke-width="1.9" fill="none"/>
<path d="M390.00,1863.97 L390.00,1859.64 M383.10,1863.97 L396.90,1863.97 M383.10,1859.64 L396.90,1859.64" stroke="#595959" stroke-width="1.9" fill="none"/>
<polyline points="265.00,1793.55 390.00,1861.95 515.00,1805.82 640.00,1706.97" fill="none" stroke="#4472c4" stroke-width="4.7" stroke-linejoin="round" stroke-linecap="round" />
<circle cx="265.00" cy="1793.55" r="6.9" fill="#4472c4"/>
<circle cx="390.00" cy="1861.95" r="6.9" fill="#4472c4"/>
<circle cx="515.00" cy="1805.82" r="6.9" fill="#4472c4"/>
<circle cx="640.00" cy="1706.97" r="6.9" fill="#4472c4"/>
<polyline points="265.00,1830.93 390.00,1845.93 515.00,1833.67 640.00,1803.37" fill="none" stroke="#ed7d31" stroke-width="4.7" stroke-linejoin="round" stroke-linecap="round" />
<circle cx="265.00" cy="1830.93" r="6.9" fill="#ed7d31"/>
<circle cx="390.00" cy="1845.93" r="6.9" fill="#ed7d31"/>
<circle cx="515.00" cy="1833.67" r="6.9" fill="#ed7d31"/>
<circle cx="640.00" cy="1803.37" r="6.9" fill="#ed7d31"/>
<text transform="translate(139.1,1867.62) rotate(-90) scale(0.9568,1)" font-size="26.33" font-style="normal" font-weight="normal" fill="#000">Relative TIM level</text>
<line x1="997.7" y1="1621.1" x2="997.7" y2="1885" stroke="#000" stroke-width="2.2" />
<line x1="989.4" y1="1884" x2="997.7" y2="1884" stroke="#000" stroke-width="2" />
<text transform="translate(959.41,1892.4) scale(1.0000,1)" font-size="27.8" font-style="normal" font-weight="normal" fill="#595959">0</text>
<line x1="989.4" y1="1811.25" x2="997.7" y2="1811.25" stroke="#000" stroke-width="2" />
<text transform="translate(959.48,1819.65) scale(1.0000,1)" font-size="27.8" font-style="normal" font-weight="normal" fill="#595959">5</text>
<line x1="989.4" y1="1738.5" x2="997.7" y2="1738.5" stroke="#000" stroke-width="2" />
<g transform="translate(943.95,1746.9) scale(1.0000,1)" fill="#595959"><text font-size="27.8" font-style="normal" font-weight="normal"> 0</text>
<path d="M10.4,0.0 L7.9,0.0 L7.9,-15.5 L7.2,-14.9 L6.2,-14.1 L5.2,-13.5 L4.1,-12.9 L3.1,-12.5 L3.1,-14.9 L4.5,-15.5 L5.8,-16.4 L7.1,-17.5 L7.9,-18.5 L8.4,-19.1 L10.4,-19.1 Z"/>
</g>
<line x1="989.4" y1="1665.75" x2="997.7" y2="1665.75" stroke="#000" stroke-width="2" />
<g transform="translate(944.02,1674.15) scale(1.0000,1)" fill="#595959"><text font-size="27.8" font-style="normal" font-weight="normal"> 5</text>
<path d="M10.4,0.0 L7.9,0.0 L7.9,-15.5 L7.2,-14.9 L6.2,-14.1 L5.2,-13.5 L4.1,-12.9 L3.1,-12.5 L3.1,-14.9 L4.5,-15.5 L5.8,-16.4 L7.1,-17.5 L7.9,-18.5 L8.4,-19.1 L10.4,-19.1 Z"/>
</g>
<path d="M1061.00,1792.34 L1061.00,1771.96 M1054.10,1792.34 L1067.90,1792.34 M1054.10,1771.96 L1067.90,1771.96" stroke="#595959" stroke-width="1.9" fill="none"/>
<path d="M1436.00,1802.37 L1436.00,1782.59 M1429.10,1802.37 L1442.90,1802.37 M1429.10,1782.59 L1442.90,1782.59" stroke="#595959" stroke-width="1.9" fill="none"/>
<path d="M1436.00,1826.67 L1436.00,1815.62 M1429.10,1826.67 L1442.90,1826.67 M1429.10,1815.62 L1442.90,1815.62" stroke="#595959" stroke-width="1.9" fill="none"/>
<path d="M1186.00,1844.13 L1186.00,1838.31 M1179.10,1844.13 L1192.90,1844.13 M1179.10,1838.31 L1192.90,1838.31" stroke="#595959" stroke-width="1.9" fill="none"/>
<path d="M1061.00,1854.90 L1061.00,1847.33 M1054.10,1854.90 L1067.90,1854.90 M1054.10,1847.33 L1067.90,1847.33" stroke="#595959" stroke-width="1.9" fill="none"/>
<polyline points="1061.00,1782.15 1186.00,1841.22 1311.00,1857.23 1436.00,1792.48" fill="none" stroke="#4472c4" stroke-width="4.7" stroke-linejoin="round" stroke-linecap="round" />
<circle cx="1061.00" cy="1782.15" r="6.9" fill="#4472c4"/>
<circle cx="1186.00" cy="1841.22" r="6.9" fill="#4472c4"/>
<circle cx="1311.00" cy="1857.23" r="6.9" fill="#4472c4"/>
<circle cx="1436.00" cy="1792.48" r="6.9" fill="#4472c4"/>
<polyline points="1061.00,1851.12 1186.00,1859.99 1311.00,1857.96 1436.00,1821.14" fill="none" stroke="#ed7d31" stroke-width="4.7" stroke-linejoin="round" stroke-linecap="round" />
<circle cx="1061.00" cy="1851.12" r="6.9" fill="#ed7d31"/>
<circle cx="1186.00" cy="1859.99" r="6.9" fill="#ed7d31"/>
<circle cx="1311.00" cy="1857.96" r="6.9" fill="#ed7d31"/>
<circle cx="1436.00" cy="1821.14" r="6.9" fill="#ed7d31"/>
<text transform="translate(946.9,1872.9) rotate(-90) scale(0.8720,1)" font-size="27.2" font-style="normal" font-weight="normal" fill="#000">Relative PER level</text>
<line x1="202" y1="1936.6" x2="202" y2="2155.8" stroke="#000" stroke-width="2.2" />
<line x1="193.7" y1="2154.8" x2="202" y2="2154.8" stroke="#000" stroke-width="2" />
<text transform="translate(163.71,2163.2) scale(1.0000,1)" font-size="27.8" font-style="normal" font-weight="normal" fill="#595959">0</text>
<line x1="193.7" y1="2118.6" x2="202" y2="2118.6" stroke="#000" stroke-width="2" />
<g transform="translate(167.74,2127) scale(1.0000,1)" fill="#595959"><text font-size="27.8" font-style="normal" font-weight="normal"> </text>
<path d="M10.4,0.0 L7.9,0.0 L7.9,-15.5 L7.2,-14.9 L6.2,-14.1 L5.2,-13.5 L4.1,-12.9 L3.1,-12.5 L3.1,-14.9 L4.5,-15.5 L5.8,-16.4 L7.1,-17.5 L7.9,-18.5 L8.4,-19.1 L10.4,-19.1 Z"/>
</g>
<line x1="193.7" y1="2082.4" x2="202" y2="2082.4" stroke="#000" stroke-width="2" />
<text transform="translate(163.99,2090.8) scale(1.0000,1)" font-size="27.8" font-style="normal" font-weight="normal" fill="#595959">2</text>
<line x1="193.7" y1="2046.2" x2="202" y2="2046.2" stroke="#000" stroke-width="2" />
<text transform="translate(163.85,2054.6) scale(1.0000,1)" font-size="27.8" font-style="normal" font-weight="normal" fill="#595959">3</text>
<line x1="193.7" y1="2010" x2="202" y2="2010" stroke="#000" stroke-width="2" />
<text transform="translate(163.44,2018.4) scale(1.0000,1)" font-size="27.8" font-style="normal" font-weight="normal" fill="#595959">4</text>
<line x1="193.7" y1="1973.8" x2="202" y2="1973.8" stroke="#000" stroke-width="2" />
<text transform="translate(163.78,1982.2) scale(1.0000,1)" font-size="27.8" font-style="normal" font-weight="normal" fill="#595959">5</text>
<line x1="193.7" y1="1937.6" x2="202" y2="1937.6" stroke="#000" stroke-width="2" />
<text transform="translate(163.85,1946) scale(1.0000,1)" font-size="27.8" font-style="normal" font-weight="normal" fill="#595959">6</text>
<line x1="202" y1="2154.8" x2="701.6" y2="2154.8" stroke="#d9d9d9" stroke-width="1.6" />
<path d="M265.00,2066.11 L265.00,2033.53 M258.10,2066.11 L271.90,2066.11 M258.10,2033.53 L271.90,2033.53" stroke="#595959" stroke-width="1.9" fill="none"/>
<path d="M265.00,2071.54 L265.00,2049.82 M258.10,2071.54 L271.90,2071.54 M258.10,2049.82 L271.90,2049.82" stroke="#595959" stroke-width="1.9" fill="none"/>
<path d="M265.00,2086.02 L265.00,2078.78 M258.10,2086.02 L271.90,2086.02 M258.10,2078.78 L271.90,2078.78" stroke="#595959" stroke-width="1.9" fill="none"/>
<path d="M390.00,2098.69 L390.00,2091.45 M383.10,2098.69 L396.90,2098.69 M383.10,2091.45 L396.90,2091.45" stroke="#595959" stroke-width="1.9" fill="none"/>
<path d="M390.00,2055.97 L390.00,2029.19 M383.10,2055.97 L396.90,2055.97 M383.10,2029.19 L396.90,2029.19" stroke="#595959" stroke-width="1.9" fill="none"/>
<path d="M390.00,2118.60 L390.00,2111.36 M383.10,2118.60 L396.90,2118.60 M383.10,2111.36 L396.90,2111.36" stroke="#595959" stroke-width="1.9" fill="none"/>
<path d="M515.00,1981.04 L515.00,1952.80 M508.10,1981.04 L521.90,1981.04 M508.10,1952.80 L521.90,1952.80" stroke="#595959" stroke-width="1.9" fill="none"/>
<path d="M515.00,2020.86 L515.00,1999.14 M508.10,2020.86 L521.90,2020.86 M508.10,1999.14 L521.90,1999.14" stroke="#595959" stroke-width="1.9" fill="none"/>
<path d="M515.00,2046.20 L515.00,2033.53 M508.10,2046.20 L521.90,2046.20 M508.10,2033.53 L521.90,2033.53" stroke="#595959" stroke-width="1.9" fill="none"/>
<path d="M640.00,2048.01 L640.00,2029.91 M633.10,2048.01 L646.90,2048.01 M633.10,2029.91 L646.90,2029.91" stroke="#595959" stroke-width="1.9" fill="none"/>
<path d="M640.00,2038.60 L640.00,2020.50 M633.10,2038.60 L646.90,2038.60 M633.10,2020.50 L646.90,2020.50" stroke="#595959" stroke-width="1.9" fill="none"/>
<path d="M640.00,2080.59 L640.00,2066.83 M633.10,2080.59 L646.90,2080.59 M633.10,2066.83 L646.90,2066.83" stroke="#595959" stroke-width="1.9" fill="none"/>
<polyline points="265.00,2049.82 390.00,2095.07 515.00,2010.00 640.00,2038.96" fill="none" stroke="#4472c4" stroke-width="4.7" stroke-linejoin="round" stroke-linecap="round" />
<circle cx="265.00" cy="2049.82" r="6.9" fill="#4472c4"/>
<circle cx="390.00" cy="2095.07" r="6.9" fill="#4472c4"/>
<circle cx="515.00" cy="2010.00" r="6.9" fill="#4472c4"/>
<circle cx="640.00" cy="2038.96" r="6.9" fill="#4472c4"/>
<polyline points="265.00,2082.40 390.00,2042.58 515.00,1966.92 640.00,2074.44" fill="none" stroke="#ed7d31" stroke-width="4.7" stroke-linejoin="round" stroke-linecap="round" />
<circle cx="265.00" cy="2082.40" r="6.9" fill="#ed7d31"/>
<circle cx="390.00" cy="2042.58" r="6.9" fill="#ed7d31"/>
<circle cx="515.00" cy="1966.92" r="6.9" fill="#ed7d31"/>
<circle cx="640.00" cy="2074.44" r="6.9" fill="#ed7d31"/>
<polyline points="265.00,2060.68 390.00,2114.98 515.00,2040.05 640.00,2029.55" fill="none" stroke="#a5a5a5" stroke-width="4.7" stroke-linejoin="round" stroke-linecap="round" />
<circle cx="265.00" cy="2060.68" r="6.9" fill="#a5a5a5"/>
<circle cx="390.00" cy="2114.98" r="6.9" fill="#a5a5a5"/>
<circle cx="515.00" cy="2040.05" r="6.9" fill="#a5a5a5"/>
<circle cx="640.00" cy="2029.55" r="6.9" fill="#a5a5a5"/>
<text transform="translate(139.1,2153.41) rotate(-90) scale(0.9534,1)" font-size="26.33" font-style="normal" font-weight="normal" fill="#000">Relative TIM level</text>
<line x1="997.7" y1="1937.02" x2="997.7" y2="2156.3" stroke="#000" stroke-width="2.2" />
<line x1="989.4" y1="2155.3" x2="997.7" y2="2155.3" stroke="#000" stroke-width="2" />
<text transform="translate(959.41,2163.7) scale(1.0000,1)" font-size="27.8" font-style="normal" font-weight="normal" fill="#595959">0</text>
<line x1="989.4" y1="2100.98" x2="997.7" y2="2100.98" stroke="#000" stroke-width="2" />
<text transform="translate(959.69,2109.38) scale(1.0000,1)" font-size="27.8" font-style="normal" font-weight="normal" fill="#595959">2</text>
<line x1="989.4" y1="2046.66" x2="997.7" y2="2046.66" stroke="#000" stroke-width="2" />
<text transform="translate(959.14,2055.06) scale(1.0000,1)" font-size="27.8" font-style="normal" font-weight="normal" fill="#595959">4</text>
<line x1="989.4" y1="1992.34" x2="997.7" y2="1992.34" stroke="#000" stroke-width="2" />
<text transform="translate(959.55,2000.74) scale(1.0000,1)" font-size="27.8" font-style="normal" font-weight="normal" fill="#595959">6</text>
<line x1="989.4" y1="1938.02" x2="997.7" y2="1938.02" stroke="#000" stroke-width="2" />
<text transform="translate(959.48,1946.42) scale(1.0000,1)" font-size="27.8" font-style="normal" font-weight="normal" fill="#595959">8</text>
<line x1="997.7" y1="2155.3" x2="1497" y2="2155.3" stroke="#d9d9d9" stroke-width="1.6" />
<path d="M1061.00,2020.86 L1061.00,1999.94 M1054.10,2020.86 L1067.90,2020.86 M1054.10,1999.94 L1067.90,1999.94" stroke="#595959" stroke-width="1.9" fill="none"/>
<path d="M1061.00,2100.98 L1061.00,2073.82 M1054.10,2100.98 L1067.90,2100.98 M1054.10,2073.82 L1067.90,2073.82" stroke="#595959" stroke-width="1.9" fill="none"/>
<path d="M1186.00,2121.62 L1186.00,2110.76 M1179.10,2121.62 L1192.90,2121.62 M1179.10,2110.76 L1192.90,2110.76" stroke="#595959" stroke-width="1.9" fill="none"/>
<path d="M1186.00,2132.76 L1186.00,2124.61 M1179.10,2132.76 L1192.90,2132.76 M1179.10,2124.61 L1192.90,2124.61" stroke="#595959" stroke-width="1.9" fill="none"/>
<path d="M1311.00,2044.76 L1311.00,2024.93 M1304.10,2044.76 L1317.90,2044.76 M1304.10,2024.93 L1317.90,2024.93" stroke="#595959" stroke-width="1.9" fill="none"/>
<path d="M1311.00,2078.44 L1311.00,2061.60 M1304.10,2078.44 L1317.90,2078.44 M1304.10,2061.60 L1317.90,2061.60" stroke="#595959" stroke-width="1.9" fill="none"/>
<path d="M1311.00,2107.50 L1311.00,2099.35 M1304.10,2107.50 L1317.90,2107.50 M1304.10,2099.35 L1317.90,2099.35" stroke="#595959" stroke-width="1.9" fill="none"/>
<path d="M1436.00,2018.96 L1436.00,1996.69 M1429.10,2018.96 L1442.90,2018.96 M1429.10,1996.69 L1442.90,1996.69" stroke="#595959" stroke-width="1.9" fill="none"/>
<path d="M1436.00,2028.46 L1436.00,2002.93 M1429.10,2028.46 L1442.90,2028.46 M1429.10,2002.93 L1442.90,2002.93" stroke="#595959" stroke-width="1.9" fill="none"/>
<path d="M1436.00,2057.52 L1436.00,2038.51 M1429.10,2057.52 L1442.90,2057.52 M1429.10,2038.51 L1442.90,2038.51" stroke="#595959" stroke-width="1.9" fill="none"/>
<polyline points="1061.00,2011.08 1186.00,2128.68 1311.00,2070.29 1436.00,2007.82" fill="none" stroke="#4472c4" stroke-width="4.7" stroke-linejoin="round" stroke-linecap="round" />
<circle cx="1061.00" cy="2011.08" r="6.9" fill="#4472c4"/>
<circle cx="1186.00" cy="2128.68" r="6.9" fill="#4472c4"/>
<circle cx="1311.00" cy="2070.29" r="6.9" fill="#4472c4"/>
<circle cx="1436.00" cy="2007.82" r="6.9" fill="#4472c4"/>
<polyline points="1061.00,2124.34 1186.00,2116.19 1311.00,2034.98 1436.00,2015.70" fill="none" stroke="#ed7d31" stroke-width="4.7" stroke-linejoin="round" stroke-linecap="round" />
<circle cx="1061.00" cy="2124.34" r="6.9" fill="#ed7d31"/>
<circle cx="1186.00" cy="2116.19" r="6.9" fill="#ed7d31"/>
<circle cx="1311.00" cy="2034.98" r="6.9" fill="#ed7d31"/>
<circle cx="1436.00" cy="2015.70" r="6.9" fill="#ed7d31"/>
<polyline points="1061.00,2086.86 1186.00,2131.40 1311.00,2103.42 1436.00,2047.75" fill="none" stroke="#a5a5a5" stroke-width="4.7" stroke-linejoin="round" stroke-linecap="round" />
<circle cx="1061.00" cy="2086.86" r="6.9" fill="#a5a5a5"/>
<circle cx="1186.00" cy="2131.40" r="6.9" fill="#a5a5a5"/>
<circle cx="1311.00" cy="2103.42" r="6.9" fill="#a5a5a5"/>
<circle cx="1436.00" cy="2047.75" r="6.9" fill="#a5a5a5"/>
<text transform="translate(946.9,2146.88) rotate(-90) scale(0.8629,1)" font-size="27.2" font-style="normal" font-weight="normal" fill="#000">Relative PER level</text>
<text transform="translate(237.98,2200.79) scale(1.0000,1)" font-size="30.82" font-style="normal" font-weight="normal" fill="#595959">ZT0</text>
<text transform="translate(361.87,2201.01) scale(1.0000,1)" font-size="31.14" font-style="normal" font-weight="normal" fill="#595959">ZT6</text>
<g transform="translate(477.57,2200.88) scale(0.9999,1)" fill="#595959"><text font-size="30.95" font-style="normal" font-weight="normal">ZT 2</text>
<path d="M49.3,0.0 L46.6,0.0 L46.6,-17.3 L45.8,-16.5 L44.8,-15.7 L43.6,-15.0 L42.3,-14.4 L41.3,-13.9 L41.3,-16.5 L42.8,-17.3 L44.3,-18.3 L45.7,-19.5 L46.7,-20.6 L47.2,-21.3 L49.3,-21.3 Z"/>
</g>
<g transform="translate(602.57,2200.81) scale(0.9999,1)" fill="#595959"><text font-size="30.85" font-style="normal" font-weight="normal">ZT 8</text>
<path d="M49.2,0.0 L46.5,0.0 L46.5,-17.2 L45.7,-16.5 L44.6,-15.7 L43.4,-14.9 L42.2,-14.3 L41.2,-13.9 L41.2,-16.5 L42.7,-17.2 L44.2,-18.2 L45.5,-19.4 L46.5,-20.5 L47.0,-21.2 L49.2,-21.2 Z"/>
</g>
<text transform="translate(1034.69,2202.03) scale(1.0000,1)" font-size="30.29" font-style="normal" font-weight="normal" fill="#595959">ZT0</text>
<text transform="translate(1158.29,2202.09) scale(1.0000,1)" font-size="30.38" font-style="normal" font-weight="normal" fill="#595959">ZT6</text>
<g transform="translate(1273.97,2202.48) scale(0.9999,1)" fill="#595959"><text font-size="30.95" font-style="normal" font-weight="normal">ZT 2</text>
<path d="M49.3,0.0 L46.6,0.0 L46.6,-17.3 L45.8,-16.5 L44.8,-15.7 L43.6,-15.0 L42.3,-14.4 L41.3,-13.9 L41.3,-16.5 L42.8,-17.3 L44.3,-18.3 L45.7,-19.5 L46.7,-20.6 L47.2,-21.3 L49.3,-21.3 Z"/>
</g>
<g transform="translate(1397.57,2202.41) scale(0.9999,1)" fill="#595959"><text font-size="30.85" font-style="normal" font-weight="normal">ZT 8</text>
<path d="M49.2,0.0 L46.5,0.0 L46.5,-17.2 L45.7,-16.5 L44.6,-15.7 L43.4,-14.9 L42.2,-14.3 L41.2,-13.9 L41.2,-16.5 L42.7,-17.2 L44.2,-18.2 L45.5,-19.4 L46.5,-20.5 L47.0,-21.2 L49.2,-21.2 Z"/>
</g>
<line x1="709.4" y1="1320.8" x2="749" y2="1320.8" stroke="#4472c4" stroke-width="4.8" />
<text transform="translate(753.58,1330.4) scale(0.9710,1)" font-size="31.13" font-style="normal" font-weight="normal" fill="#000">LNd CRY</text>
<text transform="translate(881.17,1318) scale(1.0000,1)" font-size="20" font-style="normal" font-weight="normal" fill="#000">+</text>
<line x1="710" y1="1386.5" x2="749.5" y2="1386.5" stroke="#ed7d31" stroke-width="4.8" />
<text transform="translate(757.58,1397.8) scale(0.9710,1)" font-size="31.13" font-style="normal" font-weight="normal" fill="#000">LNd CRY</text>
<rect x="885.5" y="1377.5" width="6" height="2" fill="#000" />
<line x1="710" y1="1456.6" x2="749.5" y2="1456.6" stroke="#a5a5a5" stroke-width="4.8" />
<text transform="translate(758.76,1467) scale(0.9981,1)" font-size="31.13" font-style="normal" font-weight="normal" fill="#000">5th</text>
<line x1="707.8" y1="1700.5" x2="747.9" y2="1700.5" stroke="#4472c4" stroke-width="4.8" />
<text transform="translate(754.07,1710.1) scale(0.9384,1)" font-size="32.15" font-style="normal" font-weight="normal" fill="#000">sLNv</text>
<line x1="706.8" y1="1753.6" x2="746.9" y2="1753.6" stroke="#ed7d31" stroke-width="4.8" />
<text transform="translate(762.13,1763.7) scale(0.9433,1)" font-size="32.15" font-style="normal" font-weight="normal" fill="#000">lLNv</text>
<line x1="707" y1="1974.3" x2="747.1" y2="1974.3" stroke="#4472c4" stroke-width="4.8" />
<g transform="translate(752.44,1983.6) scale(0.9699,1)" fill="#000"><text font-size="31.71" font-style="normal" font-weight="normal">DN p</text>
<path d="M57.6,0.0 L54.8,0.0 L54.8,-17.7 L54.0,-17.0 L52.9,-16.1 L51.7,-15.4 L50.4,-14.7 L49.4,-14.3 L49.4,-16.9 L50.9,-17.7 L52.5,-18.7 L53.8,-20.0 L54.9,-21.1 L55.4,-21.8 L57.6,-21.8 Z"/>
</g>
<line x1="707.2" y1="2040.1" x2="747.9" y2="2040.1" stroke="#ed7d31" stroke-width="4.8" />
<text transform="translate(756.12,2050.7) scale(0.9922,1)" font-size="31.27" font-style="normal" font-weight="normal" fill="#000">DN2</text>
<line x1="708.2" y1="2109.7" x2="748.9" y2="2109.7" stroke="#a5a5a5" stroke-width="4.8" />
<text transform="translate(756.12,2120.3) scale(0.9895,1)" font-size="31.27" font-style="normal" font-weight="normal" fill="#000">DN3</text>
<text transform="translate(260.82,1440.06) scale(1.0000,1)" font-size="24.5" font-style="normal" font-weight="normal" fill="#000">*</text>
<text transform="translate(254.35,1502.76) scale(1.0000,1)" font-size="24.5" font-style="normal" font-weight="normal" fill="#000">*</text>
<text transform="translate(265.1,1502.76) scale(1.0000,1)" font-size="24.5" font-style="normal" font-weight="normal" fill="#000">*</text>
<text transform="translate(510.22,1527.06) scale(1.0000,1)" font-size="24.5" font-style="normal" font-weight="normal" fill="#000">*</text>
<text transform="translate(501.76,1541.7) scale(1.0933,1)" font-size="25.86" font-style="normal" font-weight="normal" fill="#000">ns</text>
<text transform="translate(1056.52,1353.76) scale(1.0000,1)" font-size="24.5" font-style="normal" font-weight="normal" fill="#000">*</text>
<text transform="translate(1052.15,1500.86) scale(1.0000,1)" font-size="24.5" font-style="normal" font-weight="normal" fill="#000">*</text>
<text transform="translate(1062.9,1500.86) scale(1.0000,1)" font-size="24.5" font-style="normal" font-weight="normal" fill="#000">*</text>
<text transform="translate(1431.22,1421.76) scale(1.0000,1)" font-size="24.5" font-style="normal" font-weight="normal" fill="#000">*</text>
<text transform="translate(1421.47,1522.96) scale(1.0000,1)" font-size="24.5" font-style="normal" font-weight="normal" fill="#000">*</text>
<text transform="translate(1432.22,1522.96) scale(1.0000,1)" font-size="24.5" font-style="normal" font-weight="normal" fill="#000">*</text>
<text transform="translate(1442.97,1522.96) scale(1.0000,1)" font-size="24.5" font-style="normal" font-weight="normal" fill="#000">*</text>
<text transform="translate(254.05,1854.96) scale(1.0000,1)" font-size="24.5" font-style="normal" font-weight="normal" fill="#000">*</text>
<text transform="translate(264.8,1854.96) scale(1.0000,1)" font-size="24.5" font-style="normal" font-weight="normal" fill="#000">*</text>
<text transform="translate(374.17,1843.26) scale(1.0000,1)" font-size="24.5" font-style="normal" font-weight="normal" fill="#000">*</text>
<text transform="translate(384.92,1843.26) scale(1.0000,1)" font-size="24.5" font-style="normal" font-weight="normal" fill="#000">*</text>
<text transform="translate(395.67,1843.26) scale(1.0000,1)" font-size="24.5" font-style="normal" font-weight="normal" fill="#000">*</text>
<text transform="translate(498.47,1857.16) scale(1.0000,1)" font-size="24.5" font-style="normal" font-weight="normal" fill="#000">*</text>
<text transform="translate(509.22,1857.16) scale(1.0000,1)" font-size="24.5" font-style="normal" font-weight="normal" fill="#000">*</text>
<text transform="translate(519.97,1857.16) scale(1.0000,1)" font-size="24.5" font-style="normal" font-weight="normal" fill="#000">*</text>
<text transform="translate(1050.35,1878.56) scale(1.0000,1)" font-size="24.5" font-style="normal" font-weight="normal" fill="#000">*</text>
<text transform="translate(1061.1,1878.56) scale(1.0000,1)" font-size="24.5" font-style="normal" font-weight="normal" fill="#000">*</text>
<text transform="translate(1170.77,1887.06) scale(1.0000,1)" font-size="24.5" font-style="normal" font-weight="normal" fill="#000">*</text>
<text transform="translate(1181.52,1887.06) scale(1.0000,1)" font-size="24.5" font-style="normal" font-weight="normal" fill="#000">*</text>
<text transform="translate(1192.27,1887.06) scale(1.0000,1)" font-size="24.5" font-style="normal" font-weight="normal" fill="#000">*</text>
<text transform="translate(1295.67,1884.36) scale(1.0000,1)" font-size="24.5" font-style="normal" font-weight="normal" fill="#000">*</text>
<text transform="translate(1306.42,1884.36) scale(1.0000,1)" font-size="24.5" font-style="normal" font-weight="normal" fill="#000">*</text>
<text transform="translate(1317.17,1884.36) scale(1.0000,1)" font-size="24.5" font-style="normal" font-weight="normal" fill="#000">*</text>
</svg>
</body></html>
